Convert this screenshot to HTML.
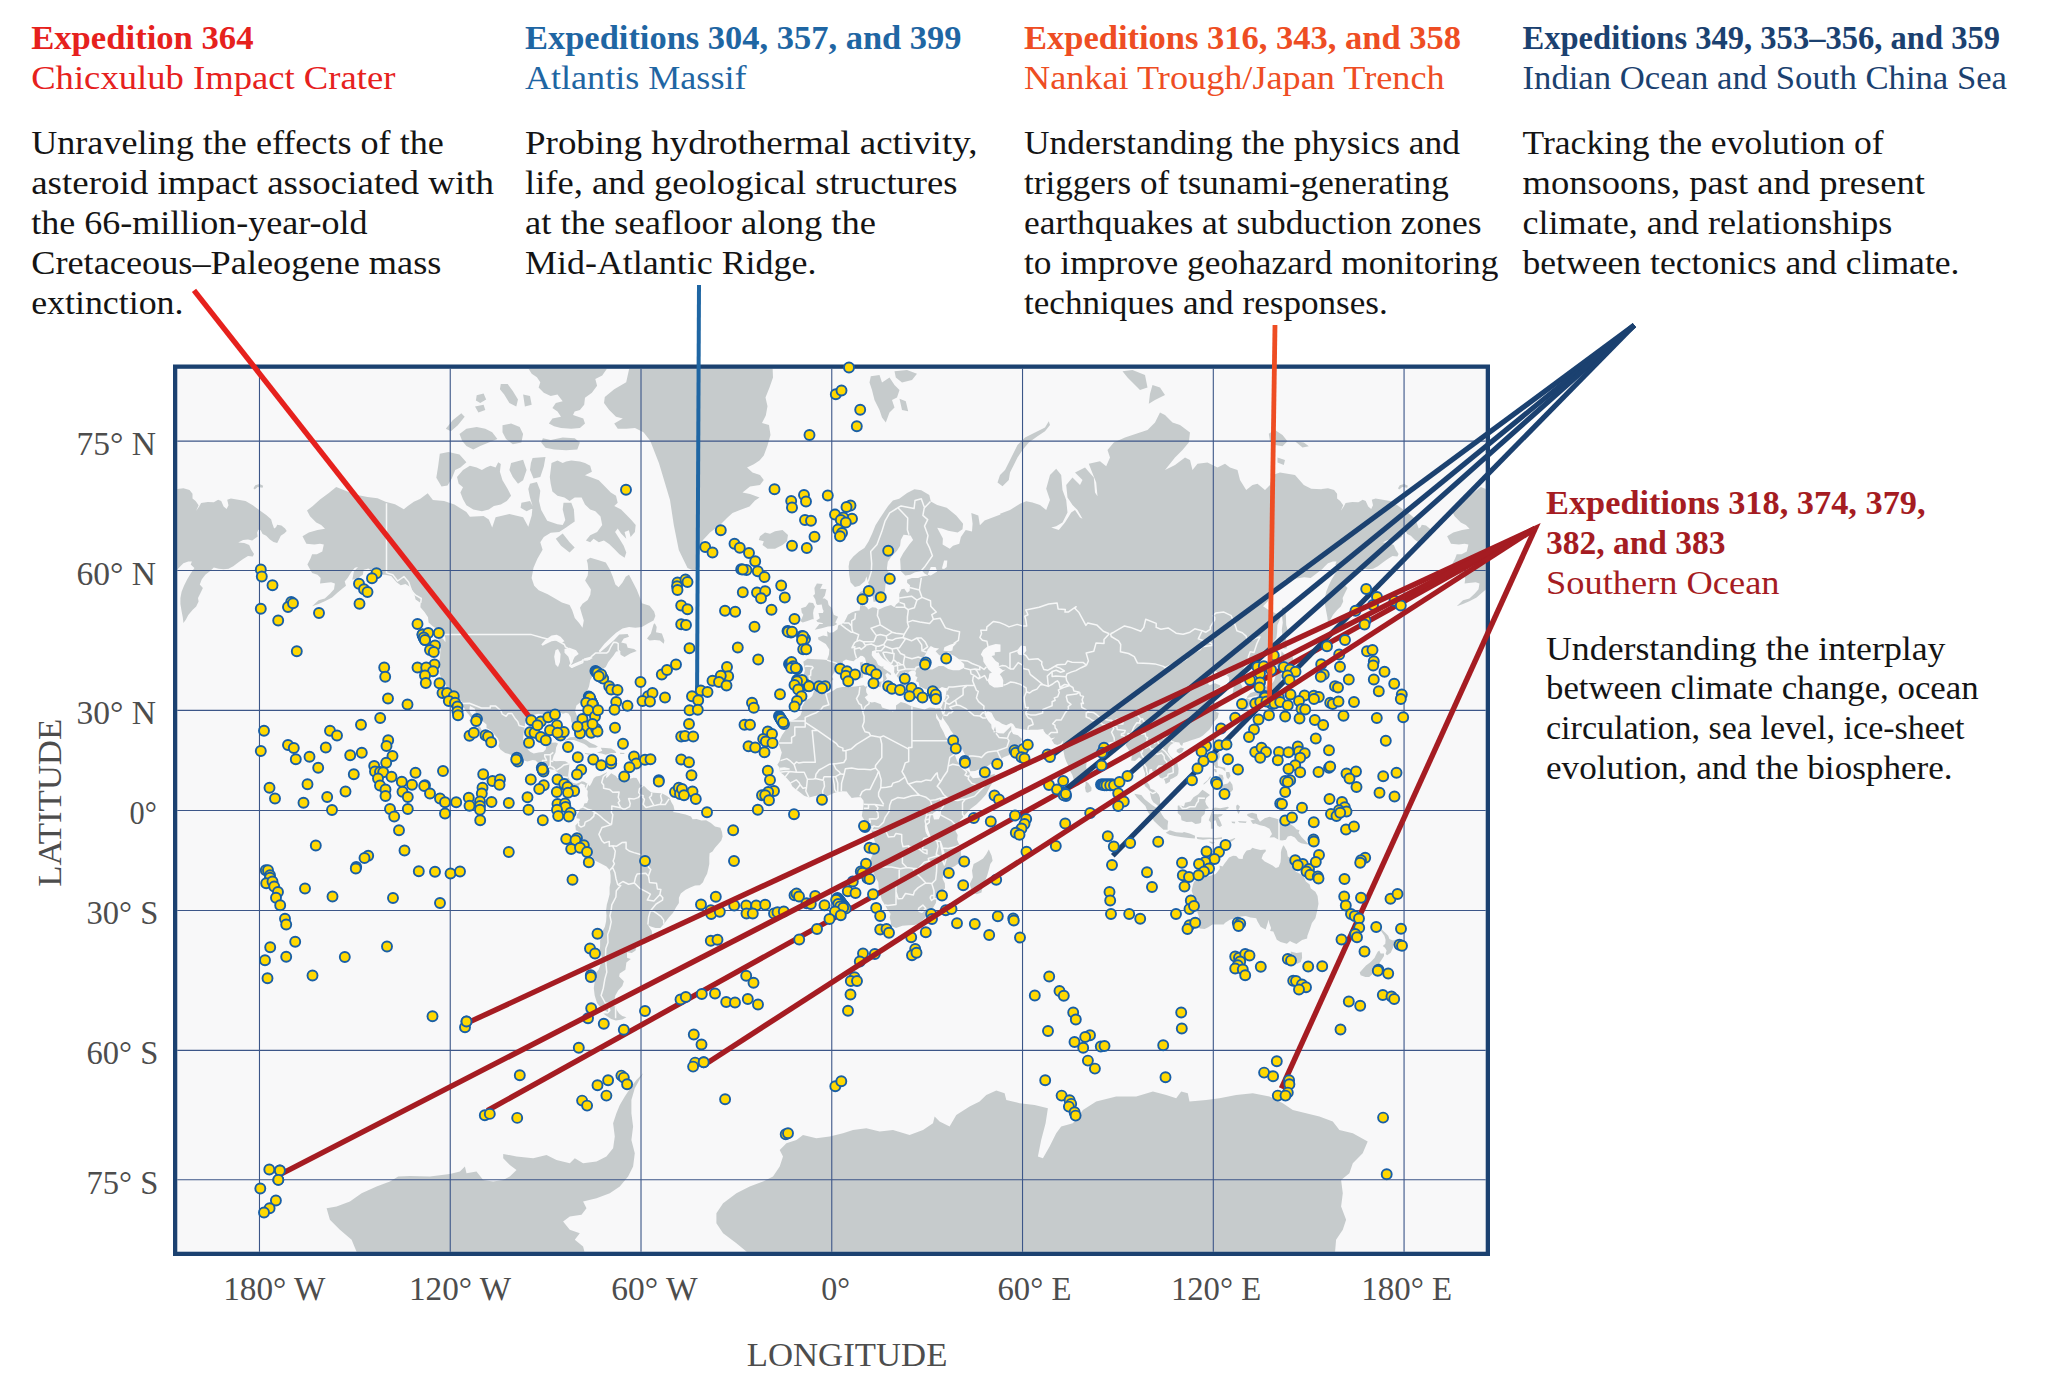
<!DOCTYPE html>
<html><head><meta charset="utf-8"><title>IODP expeditions map</title>
<style>html,body{margin:0;padding:0;background:#fff}svg{display:block}text{font-family:"Liberation Serif",serif}</style></head><body>
<svg width="2050" height="1396" viewBox="0 0 2050 1396">
<rect width="2050" height="1396" fill="#fff"/>
<defs><clipPath id="mc"><rect x="177.3" y="368.8" width="1308.4" height="882.9"/></clipPath></defs>
<rect x="177.3" y="368.8" width="1308.4" height="882.9" fill="#f8f8f9"/>
<g clip-path="url(#mc)">
<path fill="#c6cbcc" stroke="none" d="M302.5,536.2 308.8,532.5 317.5,530.0 325.0,528.8 321.2,525.0 316.2,522.5 310.0,516.2 307.0,510.5 312.5,506.2 320.0,499.5 328.8,493.0 336.2,487.0 345.0,490.5 355.0,494.5 367.5,497.0 377.5,498.2 385.5,501.8 395.0,504.2 403.8,509.2 407.5,506.2 413.8,501.8 420.0,499.0 427.7,493.2 432.9,500.1 444.1,501.0 454.4,504.4 466.4,512.1 469.9,516.8 483.6,516.1 488.8,519.5 492.2,527.6 495.6,517.3 509.4,513.9 523.1,517.3 528.3,526.8 531.7,515.6 532.6,506.1 530.0,497.5 528.3,488.9 530.0,483.8 536.9,482.1 540.3,490.7 539.0,501.0 541.2,509.9 547.2,520.7 557.5,524.2 562.7,525.0 565.3,519.9 562.7,509.6 563.5,502.7 571.3,502.7 573.9,509.6 574.7,521.6 569.6,525.0 566.1,527.6 559.2,531.9 550.7,532.8 543.8,537.1 540.3,542.2 542.6,549.7 537.4,558.7 533.5,567.7 531.6,578.0 534.2,585.8 538.7,590.3 547.7,594.2 555.5,598.7 561.9,602.5 569.6,605.1 572.2,610.3 574.8,618.0 579.3,623.2 582.5,627.7 583.8,620.6 581.5,612.9 580.0,607.7 582.5,603.8 587.7,600.0 590.3,594.8 590.9,589.6 587.7,584.5 585.1,580.6 587.7,575.5 588.3,570.3 587.7,563.8 586.7,560.0 590.3,557.7 598.0,560.0 605.8,562.6 609.6,569.0 612.8,576.7 615.4,584.5 618.6,587.3 622.5,582.5 625.7,576.7 629.0,574.8 632.8,581.9 636.7,589.6 639.9,597.4 641.9,603.2 649.6,605.8 654.1,611.6 655.4,616.1 653.5,620.6 648.3,623.2 641.9,627.0 635.4,627.7 629.0,627.0 622.5,628.6 616.1,632.8 610.9,637.6 604.5,643.8 598.7,650.9 599.9,652.6 606.4,647.0 614.1,639.9 619.3,634.5 627.7,634.1 629.0,636.7 623.8,638.6 621.2,642.5 626.4,643.8 627.7,647.7 634.1,649.0 636.7,650.9 630.3,653.5 624.5,657.0 620.6,654.8 619.9,650.9 616.1,651.5 613.5,655.4 608.3,661.9 605.8,667.0 601.9,669.6 598.0,671.1 593.5,674.8 590.3,679.9 589.0,686.4 586.4,692.8 583.8,700.0 581.1,701.7 576.4,705.4 575.1,710.9 577.7,718.1 579.6,723.4 579.2,727.6 578.0,729.7 576.1,729.7 573.9,726.2 571.3,721.7 570.7,717.0 568.5,713.4 565.9,712.7 562.8,713.8 559.0,711.3 554.2,711.6 549.8,712.0 550.4,715.6 547.0,715.6 543.2,714.5 538.4,713.8 533.0,714.9 528.9,717.8 525.1,721.7 524.8,726.9 523.5,733.9 523.2,739.7 524.8,744.0 528.0,749.7 530.2,751.7 533.7,753.4 538.4,752.4 543.2,752.0 545.7,749.4 546.6,744.7 551.1,742.7 555.8,742.4 558.0,743.4 556.1,747.4 555.5,752.4 553.6,755.7 552.3,760.6 555.8,761.2 560.6,760.9 565.3,761.2 569.4,763.8 568.8,770.3 568.2,775.1 568.2,777.4 570.7,780.9 573.2,783.1 576.4,783.7 579.6,782.5 581.8,781.2 584.3,781.8 587.8,784.0 586.2,788.8 584.6,786.3 585.2,785.0 581.1,783.4 578.3,785.6 579.6,788.2 576.7,788.8 574.2,786.3 570.4,785.6 568.2,784.7 567.8,783.1 564.7,781.2 563.4,781.2 561.2,778.6 561.5,776.4 558.7,773.5 555.5,770.6 556.1,769.0 552.6,769.7 548.5,768.7 543.5,767.4 540.6,765.5 535.6,760.6 532.7,759.9 527.3,761.6 522.6,759.9 516.9,758.0 510.2,754.4 505.2,753.0 500.4,749.4 498.5,746.1 499.5,742.4 497.9,738.6 494.4,734.5 490.9,730.4 486.5,728.0 486.5,724.5 482.7,721.3 479.5,717.4 475.7,712.7 474.8,708.4 470.0,706.1 469.4,709.1 470.4,712.7 473.8,717.0 475.7,720.6 478.3,724.1 480.8,728.3 482.7,732.8 486.2,736.6 484.6,737.6 481.8,734.2 478.0,731.5 477.6,726.9 474.5,724.1 471.0,723.1 469.1,720.6 471.6,718.5 469.1,714.9 466.6,712.0 463.7,707.3 462.1,703.6 461.5,700.9 458.0,698.7 455.5,697.2 451.1,696.0 450.7,693.4 447.3,689.1 446.6,686.8 445.0,684.0 443.5,681.2 440.9,677.2 439.4,673.1 440.0,666.9 438.7,662.6 440.0,657.4 440.6,647.7 438.4,639.8 438.1,637.5 442.8,638.4 445.4,642.2 445.4,638.0 444.1,634.6 442.5,632.7 437.8,629.8 432.4,625.9 428.6,622.4 428.0,617.3 424.5,612.1 420.4,607.3 420.7,602.9 415.6,599.6 414.0,592.8 410.2,587.0 405.5,584.0 400.7,585.2 396.6,582.2 391.2,576.0 384.9,574.8 377.0,574.8 372.3,571.6 368.5,568.4 363.7,569.7 362.8,574.8 358.0,577.9 352.3,579.7 353.9,571.6 358.0,567.1 354.9,567.8 351.7,571.6 347.6,577.9 344.7,581.6 346.0,585.8 342.2,588.7 337.4,592.8 332.1,597.4 324.8,601.3 318.5,604.0 312.1,606.2 318.5,600.2 324.8,598.5 330.2,593.4 334.0,589.3 334.9,583.4 331.1,582.2 326.4,582.8 320.0,583.4 320.7,577.9 317.5,574.8 312.1,572.9 309.6,568.4 307.4,564.5 310.5,558.5 312.1,554.3 316.9,554.3 322.3,551.6 323.8,544.4 320.0,543.7 314.3,544.4 306.4,543.7ZM439.8,453.7 448.4,452.0 459.5,454.6 466.4,462.3 460.4,467.4 455.2,470.0 451.8,478.6 447.5,485.5 441.5,486.4 436.3,477.8 438.1,466.6ZM457.0,476.9 463.0,470.0 469.9,465.7 476.7,467.4 481.9,470.0 486.2,467.4 490.5,465.7 495.6,467.4 498.2,462.3 500.8,464.0 499.9,471.7 502.5,480.3 507.7,488.9 511.1,495.8 506.8,501.0 500.8,504.4 493.9,506.1 488.8,509.6 481.9,511.3 473.3,509.6 466.4,505.3 463.0,499.2 460.4,492.4 463.0,487.2 458.7,483.8ZM551.5,463.1 557.5,460.6 562.7,463.1 566.1,461.4 571.3,460.6 579.9,461.4 585.0,463.1 590.2,465.7 591.9,471.7 585.0,475.2 590.2,476.9 598.8,480.3 605.7,487.2 610.8,492.4 616.0,495.8 617.7,502.7 614.3,506.1 621.1,509.6 626.3,514.7 631.4,519.9 635.7,525.0 634.9,531.9 630.6,537.1 628.9,530.2 624.6,531.9 626.3,538.8 621.1,533.6 617.7,528.5 615.1,531.9 619.4,538.8 623.7,545.7 626.3,552.5 624.6,557.7 619.4,554.3 614.3,549.1 609.1,543.9 603.9,540.5 598.8,542.2 593.6,538.8 590.2,542.2 585.9,540.5 590.2,535.3 597.1,531.9 602.2,525.0 600.5,516.4 595.3,511.3 590.2,509.6 585.0,504.4 581.6,497.5 574.7,497.5 569.6,501.0 564.4,497.5 557.5,495.8 552.4,491.5 550.7,483.8 549.8,476.9 550.7,470.0ZM542.9,438.2 550.7,439.9 562.7,437.4 574.7,438.2 579.9,442.5 577.3,449.4 566.1,450.3 554.1,449.4 545.5,447.7 541.2,442.5ZM527.4,366.9 608.2,366.9 602.2,375.5 595.3,378.9 597.1,385.8 591.9,392.7 585.0,397.8 584.2,404.7 579.9,409.9 574.7,411.6 573.0,415.0 583.3,418.4 585.0,423.6 579.9,427.9 571.3,428.8 561.0,427.9 554.1,426.2 548.9,423.6 552.4,418.4 561.0,416.7 557.5,411.6 552.4,408.1 555.8,403.0 562.7,401.3 557.5,394.4 550.7,396.1 543.8,392.7 538.6,387.5 540.3,382.3 536.9,377.2 531.7,373.8ZM500.8,384.1 507.7,384.1 512.8,390.9 518.0,399.5 516.3,406.4 509.4,403.0 504.2,394.4 499.9,389.2ZM445.8,428.8 452.7,420.2 461.3,413.3 464.7,416.7 457.8,425.3 450.9,431.3ZM459.5,433.9 466.4,428.8 476.7,427.0 485.3,428.8 492.2,432.2 497.4,439.1 488.8,442.5 480.2,446.0 473.3,449.4 466.4,446.0 462.1,440.8ZM502.5,425.3 511.1,423.6 519.7,427.0 523.1,433.9 521.4,442.5 512.8,444.2 506.0,439.1 502.5,432.2ZM476.7,395.2 483.6,393.5 486.2,399.5 480.2,403.0 475.9,400.4ZM475.0,406.4 483.6,404.7 485.3,409.9 478.4,412.4ZM523.1,394.4 530.0,396.1 531.7,404.7 524.9,406.4ZM532.6,458.0 545.5,457.1 543.8,466.6 540.3,476.9 533.5,478.6 530.0,470.0 530.9,463.1ZM511.1,463.1 523.1,459.7 526.6,470.0 523.1,480.3 518.0,483.8 512.8,476.9 509.4,470.0ZM521.4,502.7 530.0,501.0 533.5,507.8 526.6,511.3 520.6,507.8ZM562.7,533.6 569.6,542.2 574.7,547.4 569.6,552.5 561.0,545.7 555.8,538.8ZM647.0,638.6 650.9,633.5 653.5,624.5 654.8,623.2 656.7,627.0 656.0,632.2 661.9,633.5 664.4,640.6 663.8,643.8 659.9,640.6 654.8,639.9 649.6,640.6ZM629.0,365.0 772.5,365.0 773.0,377.5 769.5,387.5 765.5,397.5 767.5,406.2 765.8,415.5 762.0,423.0 769.0,425.0 770.5,435.0 767.5,445.5 763.8,455.5 759.5,460.5 753.8,464.2 747.0,467.5 752.5,472.5 760.0,475.0 763.8,480.0 760.0,485.0 750.0,486.5 742.5,492.5 750.0,494.0 759.5,497.5 755.0,500.5 749.5,506.5 740.0,510.0 732.5,513.0 727.0,518.0 720.0,525.0 710.0,532.5 703.0,540.0 699.5,550.0 698.0,562.5 695.0,571.2 687.5,568.0 678.8,550.0 673.8,525.0 670.0,500.0 659.0,463.2 650.2,440.8 643.5,432.2 635.0,428.0 626.2,428.8 617.8,428.8 614.2,423.5 622.8,418.5 616.0,416.8 609.0,409.8 604.0,403.0 604.8,397.0 614.2,389.2 626.2,382.2 629.0,369.5ZM760.0,536.2 765.0,532.5 770.0,533.8 775.0,531.2 782.5,530.0 788.0,535.0 787.0,541.2 782.5,545.0 775.0,548.8 767.5,548.8 762.5,545.0 763.8,541.2 758.8,540.0ZM870.8,376.2 879.5,375.0 882.0,382.5 889.5,377.5 894.5,385.0 899.5,390.0 897.0,397.5 892.0,400.0 894.5,407.5 889.5,412.5 885.8,422.5 882.0,417.5 879.5,410.0 874.5,400.0 872.0,390.0 869.5,382.5ZM894.5,371.2 907.0,370.0 917.0,373.8 912.0,380.0 902.0,382.5 895.8,377.5ZM899.5,398.8 905.8,401.2 908.2,411.2 902.0,410.0ZM1050.0,425.0 1045.0,431.2 1037.5,436.2 1028.8,442.5 1022.5,450.0 1017.5,457.5 1013.8,465.0 1010.0,472.5 1008.8,480.0 1002.5,486.2 997.5,482.5 1000.0,475.0 1005.0,470.0 1008.8,462.5 1012.5,455.0 1017.5,445.0 1025.0,437.5 1035.0,432.5 1045.0,427.5 1048.8,421.2ZM1122.5,371.2 1132.5,370.0 1145.0,375.0 1147.5,387.5 1140.0,390.0 1132.5,382.5 1127.5,377.5ZM1152.5,385.0 1160.0,387.5 1165.0,395.0 1155.0,400.0 1148.8,403.8 1150.0,393.8ZM1268.8,433.8 1275.0,430.0 1282.5,435.0 1287.5,441.2 1282.5,446.2 1275.0,445.0 1270.0,441.2ZM1295.0,441.2 1303.8,442.5 1308.8,446.2 1302.5,447.5ZM1277.5,457.5 1285.0,460.0 1283.8,465.0 1277.5,462.5ZM1398.0,488.3 1399.8,485.2 1404.1,484.0 1407.8,485.8 1407.2,487.7 1402.3,487.1 1399.2,489.5ZM804.6,686.4 802.7,679.6 804.9,670.2 803.3,661.8 807.4,658.8 815.3,659.2 821.7,659.6 827.0,660.1 828.9,654.8 829.3,649.5 825.8,644.0 818.5,639.8 817.9,637.5 823.2,635.6 827.7,636.5 827.0,631.3 829.6,632.7 833.4,632.2 837.5,629.3 838.1,625.4 843.8,622.9 846.0,618.8 847.9,614.7 851.7,612.6 855.5,611.0 859.6,610.5 860.3,605.1 858.7,601.3 858.4,595.1 859.9,592.2 866.0,588.7 865.3,595.1 866.9,597.4 864.4,602.9 863.7,605.1 867.2,607.8 868.2,609.4 872.3,607.3 876.1,607.8 878.0,609.9 885.0,606.7 891.0,605.1 894.4,607.3 896.0,604.6 899.5,601.8 899.2,593.9 901.4,589.3 904.3,588.7 907.1,592.8 909.6,591.1 910.0,585.2 907.1,582.8 907.1,579.7 911.9,577.9 918.2,577.9 922.0,576.6 928.3,575.4 924.5,573.5 922.3,571.0 915.0,572.2 910.3,574.8 905.2,575.4 900.8,571.0 900.5,565.1 900.1,559.1 903.3,553.0 909.3,544.4 913.1,540.0 910.6,535.5 903.6,534.7 900.8,540.0 900.1,545.8 897.0,550.8 891.3,556.4 887.8,561.8 886.9,568.4 887.5,571.0 891.6,573.5 892.5,576.0 889.7,580.3 885.6,583.4 885.0,589.9 883.4,596.8 879.6,597.9 878.0,601.3 873.6,601.8 872.9,597.4 870.1,589.9 868.2,582.2 866.3,576.6 865.0,581.0 859.6,585.8 854.9,587.0 850.5,582.2 849.2,574.8 848.6,566.5 849.5,561.2 853.3,556.4 859.0,551.6 864.4,548.0 868.5,541.5 872.3,533.2 875.5,525.3 879.6,518.8 883.4,512.9 888.1,505.9 892.9,500.5 899.2,498.7 907.1,493.0 914.4,489.2 921.3,490.2 929.3,494.9 930.8,501.4 937.2,505.0 946.7,507.7 956.2,515.4 963.1,523.7 962.5,529.3 957.7,532.4 948.2,530.8 941.9,528.5 937.2,527.7 942.9,538.5 942.6,544.4 949.8,548.7 953.0,545.8 959.3,543.7 960.9,537.0 965.7,530.0 972.0,531.6 972.6,523.7 971.3,512.9 978.3,515.4 979.9,525.3 984.6,520.4 1000.5,514.6 1000.0,513.8 1010.0,510.0 1020.0,503.8 1026.2,501.2 1032.5,502.5 1040.0,505.0 1046.2,510.0 1050.0,500.0 1046.2,488.8 1050.0,475.0 1056.2,468.8 1061.2,475.0 1062.5,490.0 1066.2,500.0 1067.5,512.5 1062.5,522.5 1056.2,526.2 1051.2,527.5 1058.8,530.0 1065.0,522.5 1071.2,512.5 1075.0,510.0 1080.0,517.5 1082.5,518.8 1077.5,510.0 1072.5,505.0 1067.5,497.5 1066.2,485.0 1072.5,477.5 1080.0,485.0 1082.5,480.0 1075.0,472.5 1085.0,467.5 1093.8,477.5 1095.0,492.5 1097.5,496.2 1096.2,482.5 1091.2,470.0 1088.8,463.8 1100.0,461.2 1106.2,466.2 1110.0,457.5 1107.5,450.0 1113.8,442.5 1125.0,437.5 1136.2,433.8 1147.5,430.0 1155.0,422.5 1160.0,412.5 1165.0,415.0 1172.5,422.5 1180.0,425.0 1190.0,432.5 1188.8,442.5 1182.5,450.0 1175.0,457.5 1165.0,470.0 1175.0,465.0 1185.0,457.5 1190.0,460.0 1192.5,470.0 1197.5,463.8 1207.5,462.5 1217.5,467.5 1225.0,463.8 1230.0,467.5 1237.5,470.0 1240.0,480.0 1246.2,490.0 1252.5,485.0 1257.5,483.8 1265.0,490.0 1270.0,485.0 1272.5,475.0 1280.0,472.5 1295.0,475.0 1303.8,485.0 1311.2,488.8 1321.5,489.2 1321.9,488.9 1328.0,488.3 1334.1,490.1 1337.1,493.8 1337.1,498.6 1340.2,501.1 1343.2,505.3 1340.8,510.8 1343.8,506.5 1345.6,502.9 1352.3,501.9 1358.4,502.3 1362.7,499.8 1365.7,501.1 1368.2,506.5 1371.2,509.0 1373.0,505.3 1371.8,499.8 1375.5,498.6 1382.8,499.8 1390.1,501.1 1397.4,505.3 1404.1,510.2 1410.8,515.1 1415.7,519.3 1416.9,523.6 1418.7,528.5 1420.6,527.2 1421.8,524.8 1426.0,525.4 1429.7,528.5 1431.3,530.9 1429.1,533.3 1425.4,535.8 1423.6,539.4 1421.8,543.1 1418.1,541.9 1414.5,539.4 1410.8,535.8 1407.2,533.9 1405.3,530.3 1402.9,529.7 1401.7,532.7 1402.3,536.4 1399.8,538.2 1396.8,540.6 1392.5,539.4 1387.7,540.0 1382.8,542.5 1388.9,543.1 1393.8,544.9 1395.6,549.2 1398.6,554.0 1397.4,556.5 1392.5,555.9 1387.7,558.9 1382.8,562.6 1377.9,566.2 1373.0,568.7 1368.2,569.3 1363.3,568.7 1358.4,567.4 1354.8,571.1 1349.9,574.8 1346.3,579.6 1344.4,584.5 1347.5,588.1 1345.0,593.0 1342.6,597.9 1343.2,601.5 1340.8,606.4 1337.1,610.1 1332.9,614.9 1330.4,619.8 1328.0,622.9 1327.4,617.4 1326.2,611.3 1324.9,604.0 1324.9,597.9 1326.2,591.8 1328.6,585.7 1331.6,579.6 1335.3,573.5 1338.9,568.1 1335.3,564.4 1336.5,561.4 1332.9,561.4 1328.0,563.2 1324.9,566.2 1322.1,569.3 1310.6,577.9 1304.3,577.3 1293.2,579.1 1285.3,579.1 1277.4,587.0 1271.1,593.9 1267.9,601.3 1263.1,606.2 1267.9,609.4 1271.1,611.0 1275.8,613.6 1279.9,613.6 1280.2,618.8 1277.4,624.9 1277.1,632.2 1276.4,638.0 1271.1,644.9 1266.3,650.8 1263.1,655.3 1260.6,658.8 1254.3,662.6 1250.5,660.9 1246.7,663.9 1243.5,668.1 1243.2,671.0 1237.8,674.3 1236.2,677.2 1238.8,680.0 1242.3,686.4 1242.3,690.3 1241.6,693.4 1237.2,695.3 1233.1,696.4 1232.8,692.2 1233.7,687.1 1232.1,683.6 1229.0,682.4 1229.0,677.2 1226.1,674.7 1222.0,676.0 1216.6,679.2 1218.2,673.5 1215.7,671.0 1210.9,675.6 1205.5,677.6 1206.8,681.6 1209.3,685.2 1215.0,683.2 1220.4,685.6 1219.8,687.1 1214.7,689.5 1210.9,693.4 1210.3,695.6 1213.5,698.7 1215.4,703.2 1218.2,706.1 1218.5,709.5 1215.4,711.6 1218.8,713.1 1217.6,718.1 1214.4,721.3 1211.2,726.9 1209.3,729.7 1206.2,732.5 1203.0,735.6 1199.8,737.6 1194.5,739.3 1191.9,740.0 1187.2,741.7 1183.1,743.0 1182.1,746.1 1180.2,744.4 1179.3,742.4 1175.2,742.0 1170.7,744.7 1168.2,748.1 1167.6,751.4 1170.1,755.7 1173.9,759.6 1177.4,763.2 1178.6,768.7 1178.3,773.5 1177.1,775.8 1172.9,778.3 1170.4,779.3 1169.8,781.8 1165.7,784.0 1164.7,780.6 1163.5,778.6 1160.3,778.0 1158.1,774.5 1156.2,772.9 1152.4,771.3 1152.1,769.0 1149.5,769.3 1148.9,773.5 1146.7,778.3 1147.0,782.1 1149.2,784.7 1150.5,788.8 1154.0,790.1 1156.2,792.0 1158.7,794.5 1160.0,797.9 1160.0,802.7 1162.2,806.7 1160.3,807.4 1156.5,804.5 1153.3,802.3 1151.4,798.9 1150.2,793.8 1149.8,791.0 1147.6,788.5 1145.1,786.3 1143.8,783.1 1144.8,778.3 1145.1,773.5 1143.5,768.7 1142.2,763.8 1141.6,759.0 1139.1,757.3 1135.0,760.9 1131.2,760.6 1131.8,755.7 1129.3,750.7 1127.1,747.4 1124.8,744.0 1123.3,739.7 1120.1,740.0 1117.6,741.0 1114.4,741.4 1111.2,742.0 1108.1,742.7 1107.4,745.7 1105.9,747.7 1101.7,749.1 1097.0,754.0 1093.2,758.3 1089.7,760.6 1086.5,762.2 1086.2,767.1 1086.9,770.3 1085.6,773.5 1085.3,778.6 1083.7,779.0 1082.7,782.1 1080.2,783.4 1078.0,785.9 1075.2,783.4 1073.9,779.9 1072.3,775.1 1069.8,770.6 1068.2,765.5 1066.3,761.6 1064.7,757.3 1063.4,750.7 1062.8,745.7 1062.5,743.4 1063.4,741.0 1062.2,741.4 1060.9,743.4 1057.4,745.1 1054.3,744.0 1051.7,740.0 1055.2,737.6 1051.1,738.3 1048.6,735.2 1046.0,733.9 1043.8,731.1 1043.2,729.0 1037.5,729.7 1030.5,729.7 1027.4,730.1 1021.0,729.0 1015.7,728.0 1013.1,724.1 1010.9,723.1 1006.2,725.2 1002.0,723.8 999.2,721.7 995.7,720.3 993.5,716.7 991.6,712.7 987.8,711.3 986.2,712.7 984.3,713.1 985.0,715.3 986.2,718.1 988.8,721.7 991.3,724.5 991.6,728.0 993.5,731.1 995.1,726.6 996.0,730.4 995.4,732.1 998.9,733.2 1003.6,733.5 1007.7,729.4 1010.3,726.9 1011.2,725.9 1011.2,730.8 1013.1,733.9 1017.9,735.2 1022.0,739.0 1020.7,743.0 1017.9,746.1 1015.7,750.7 1011.5,754.0 1007.4,755.7 1003.6,757.3 997.9,760.6 991.0,763.8 986.2,767.1 979.9,769.0 975.1,771.0 970.4,771.3 969.5,769.3 968.2,764.5 967.9,759.6 965.0,754.7 961.9,748.7 957.7,744.7 956.5,742.0 954.6,735.6 950.8,730.4 948.6,726.2 945.1,721.3 942.9,718.1 943.5,714.5 941.3,720.6 939.4,719.2 935.9,713.1 935.0,708.4 941.0,708.0 943.2,702.4 945.4,697.9 946.3,692.2 947.0,687.9 945.1,687.9 941.9,687.1 937.2,689.9 934.0,687.9 929.6,687.1 926.1,689.5 922.0,687.5 919.4,686.4 918.8,682.4 916.0,681.2 917.5,677.2 915.3,676.0 916.0,673.1 915.6,671.9 915.0,670.6 911.9,670.6 908.7,671.9 907.7,674.3 909.6,673.5 905.2,672.3 904.3,674.7 906.2,677.6 905.2,678.8 908.7,681.6 908.7,683.6 906.2,682.8 906.2,685.2 904.9,687.9 903.6,688.3 901.4,687.1 899.8,683.2 901.4,681.6 899.2,679.2 896.7,676.0 894.1,672.3 894.4,667.7 893.5,665.2 890.6,663.9 886.5,660.9 882.7,658.3 880.2,655.3 878.6,652.2 876.4,653.1 875.8,649.9 872.0,651.3 871.7,655.3 873.6,657.9 876.1,660.5 878.0,664.8 881.2,666.4 883.7,666.4 883.1,668.1 886.5,670.2 890.3,672.7 891.3,673.9 890.6,675.2 887.2,672.7 885.3,674.7 886.9,678.4 885.0,680.8 883.4,682.8 882.4,682.0 883.4,679.2 882.4,674.3 879.6,671.9 877.7,671.0 873.9,669.4 871.3,666.9 867.5,664.3 866.0,661.8 865.0,657.9 862.8,656.1 860.6,655.7 858.1,657.9 856.2,658.8 853.6,661.3 849.5,660.5 846.0,659.6 842.9,661.3 842.5,664.3 842.9,666.4 839.7,669.0 835.6,671.0 832.7,674.7 831.8,676.8 833.4,679.2 831.2,681.2 830.2,684.0 827.0,685.2 825.5,687.1 818.8,687.5 816.0,689.9 813.7,689.5 812.5,687.1 810.6,685.6 807.7,686.4ZM814.1,691.0 816.0,690.7 823.2,693.0 826.4,693.7 832.7,691.0 836.8,688.3 842.2,687.1 848.6,687.1 854.9,686.4 863.7,685.2 865.3,686.8 867.5,686.0 866.0,689.1 866.3,692.2 867.9,694.9 864.7,697.2 867.5,700.9 871.7,702.4 874.8,702.1 880.8,704.3 882.1,707.6 888.1,709.5 892.9,711.6 896.0,709.5 896.0,705.4 900.8,702.1 905.5,703.2 911.9,706.5 918.2,708.0 924.5,709.5 929.3,707.6 935.0,708.0 935.9,713.1 936.2,718.1 938.8,721.7 940.3,726.2 943.5,732.1 945.7,737.3 949.5,740.7 950.5,745.7 951.1,751.4 954.6,754.0 957.1,761.2 960.9,764.5 964.1,768.4 967.9,771.0 969.8,772.9 969.5,774.8 972.9,778.3 978.3,777.7 984.6,776.4 991.0,775.1 994.8,773.8 994.5,778.3 992.6,782.5 989.4,787.8 986.2,794.2 981.5,799.5 976.7,804.2 970.4,808.9 965.7,813.9 962.5,817.7 960.0,820.2 957.7,825.6 955.5,830.9 957.7,835.0 957.1,839.8 958.7,843.6 960.9,845.5 960.9,851.9 961.5,858.4 959.3,862.9 954.6,866.2 949.8,868.5 946.7,872.2 943.2,875.1 942.6,878.8 944.8,883.2 945.1,888.3 941.9,891.8 937.2,894.2 936.5,897.7 935.9,903.0 933.4,907.3 930.2,912.0 927.0,916.0 922.9,920.1 918.2,923.8 914.1,925.0 908.7,925.3 902.4,925.7 896.0,928.0 891.3,926.1 890.6,921.2 889.7,917.5 890.6,913.8 887.8,910.2 885.3,905.5 881.8,900.1 880.2,894.2 878.6,887.3 878.3,882.2 875.5,877.2 872.3,870.5 870.1,865.6 870.1,860.7 872.0,855.8 875.5,851.0 876.4,846.2 874.8,841.4 872.3,833.4 871.3,829.7 869.1,825.6 864.4,820.2 861.8,816.1 862.5,811.4 863.1,808.3 863.7,803.6 863.4,800.5 860.9,797.3 858.1,797.3 854.9,797.6 851.7,797.9 848.6,794.2 846.7,791.6 842.2,791.3 837.5,792.0 832.7,793.5 826.4,796.4 821.7,795.4 816.9,795.4 809.0,797.6 804.2,795.7 799.5,792.0 796.3,789.7 792.2,786.3 790.6,782.5 786.8,778.3 783.7,775.1 779.9,771.9 779.6,767.7 777.3,764.8 779.6,761.2 780.5,757.3 781.8,752.4 780.5,749.1 778.9,744.0 779.2,740.7 782.1,734.9 785.3,730.4 786.8,726.2 791.0,721.0 796.3,718.8 800.5,715.3 802.0,710.9 801.7,707.3 805.5,700.6 809.9,698.3 812.2,696.0ZM988.8,849.4 991.6,855.8 992.6,860.7 990.3,863.9 989.1,868.8 987.2,875.5 984.6,882.2 982.1,889.0 981.5,892.5 976.7,894.2 972.0,892.5 969.8,883.9 972.9,877.2 972.0,870.5 973.6,863.9 978.3,861.6 983.1,858.4 986.2,854.2ZM587.8,784.0 589.7,786.3 591.6,783.1 593.8,778.3 596.0,776.4 600.1,775.8 603.9,773.8 607.1,772.2 606.1,776.7 606.1,778.3 608.0,776.7 611.2,773.2 615.9,776.1 617.5,778.3 623.9,778.0 628.6,779.3 633.4,777.7 636.5,778.0 638.1,780.6 640.3,784.7 644.4,786.3 647.6,789.4 651.4,792.6 657.1,792.9 661.8,793.2 666.6,795.7 669.7,797.9 671.3,802.0 673.5,805.8 674.5,809.9 672.9,812.1 679.2,813.0 680.8,813.6 685.6,814.6 691.0,816.5 692.5,819.3 696.6,819.0 701.4,820.5 706.1,820.2 710.9,823.1 715.0,826.5 720.4,827.8 722.0,831.9 722.6,836.6 721.3,840.4 717.9,844.6 715.0,847.8 712.5,851.6 709.6,853.2 709.3,857.4 709.3,863.9 708.4,868.2 707.1,873.8 704.6,878.2 703.0,882.2 699.8,885.3 695.1,885.6 690.3,887.6 685.6,889.7 680.8,893.5 678.9,897.7 678.9,903.0 676.1,907.3 672.9,913.1 668.8,917.5 664.0,923.8 660.3,928.0 655.5,928.0 650.8,926.5 647.9,925.0 651.7,930.7 652.3,934.6 649.8,940.5 644.4,943.7 636.5,944.5 635.6,950.6 631.8,953.1 627.0,952.2 627.0,957.7 630.8,959.0 626.4,962.4 625.4,969.8 619.7,973.4 619.1,976.6 623.9,981.2 622.3,985.9 618.2,990.6 615.3,995.5 614.4,1000.5 616.3,1004.6 612.8,1005.1 608.3,1007.1 608.0,1011.9 604.9,1010.8 600.1,1007.1 597.0,1003.0 594.7,995.5 593.8,988.2 594.7,981.2 597.0,977.9 593.8,975.2 598.5,969.8 601.1,963.3 601.7,956.0 599.2,952.7 600.1,946.5 600.1,940.5 601.1,937.3 602.3,931.8 604.9,926.8 606.1,921.2 606.5,915.6 606.1,910.2 606.8,904.8 608.3,899.4 609.6,894.2 609.6,887.3 610.6,882.2 610.6,875.5 609.9,870.2 606.5,866.5 601.7,863.9 595.4,860.7 591.3,855.8 591.3,852.6 588.4,849.4 585.9,844.6 583.7,839.8 581.1,835.0 578.0,831.2 575.8,830.3 575.4,825.6 578.3,822.4 579.9,820.2 579.6,818.7 576.4,818.3 577.0,814.6 579.2,811.4 579.6,808.9 582.7,807.7 583.7,805.8 584.3,803.6 587.1,803.0 588.4,799.5 587.5,795.7 587.8,791.0 586.2,788.8ZM615.6,1006.6 616.6,1009.8 619.1,1013.5 622.3,1016.1 626.4,1017.2 622.3,1019.4 615.9,1020.5 611.2,1018.9 606.5,1016.1 603.3,1013.5 608.0,1013.5 610.6,1010.8 609.6,1007.1 612.8,1006.1ZM1283.7,845.2 1286.9,851.0 1287.8,856.4 1292.6,859.0 1294.2,864.9 1295.4,871.5 1299.5,873.5 1303.7,876.5 1305.9,881.5 1309.7,884.6 1310.6,888.3 1315.4,891.8 1317.6,895.9 1318.5,903.7 1316.9,912.0 1315.4,918.2 1311.9,923.1 1310.0,928.8 1307.4,935.7 1307.1,938.5 1302.1,940.1 1296.4,944.1 1291.6,942.1 1290.0,940.9 1286.9,943.7 1280.5,942.1 1276.8,939.7 1274.9,935.3 1273.3,931.5 1270.1,931.1 1271.1,928.0 1269.2,923.1 1268.8,919.7 1267.3,924.2 1265.7,929.5 1262.8,928.0 1260.6,926.8 1257.4,921.2 1256.2,918.2 1250.5,917.5 1245.7,916.0 1241.0,916.4 1234.7,918.2 1229.9,919.7 1225.2,922.7 1223.6,924.6 1217.3,924.6 1212.5,924.6 1207.8,927.6 1204.6,929.1 1199.8,928.4 1197.0,926.1 1196.7,923.1 1198.9,921.2 1198.9,916.7 1197.3,912.0 1196.0,906.5 1194.1,902.3 1191.9,897.0 1193.2,895.2 1191.6,890.7 1192.9,884.9 1194.1,881.5 1198.3,879.8 1202.4,877.5 1206.2,876.8 1210.9,875.5 1215.7,874.1 1219.8,868.8 1219.5,865.6 1222.6,866.5 1224.2,863.9 1226.7,860.7 1229.0,857.4 1233.1,855.8 1236.2,856.1 1238.8,858.7 1242.6,859.0 1243.2,855.8 1245.1,852.6 1246.7,850.6 1250.5,849.7 1252.4,847.8 1255.2,848.7 1260.6,850.0 1265.4,849.4 1266.0,851.0 1263.1,854.2 1261.6,858.4 1264.7,861.6 1268.8,863.6 1272.6,865.6 1275.8,867.9 1278.6,866.9 1280.5,862.3 1280.9,857.4 1280.9,852.6 1281.5,849.4 1282.8,846.2ZM1290.7,951.4 1296.4,953.1 1301.8,952.2 1302.1,957.7 1300.8,962.0 1297.3,963.7 1294.8,963.3 1292.6,959.0 1291.0,954.8ZM1379.3,926.5 1381.8,929.5 1385.0,932.6 1388.2,935.7 1389.4,938.9 1392.9,940.5 1397.6,939.3 1397.0,942.9 1393.5,945.7 1392.9,948.1 1390.7,952.7 1387.2,955.2 1385.6,953.9 1386.6,950.6 1385.0,947.7 1382.8,946.1 1385.3,943.7 1385.6,939.7 1384.4,935.7 1380.9,930.7ZM1379.3,950.6 1380.6,953.5 1384.0,953.5 1384.0,956.0 1381.8,959.4 1379.6,962.8 1380.2,965.0 1375.5,966.7 1373.9,971.2 1372.3,974.3 1369.2,977.0 1365.4,977.0 1360.6,975.2 1359.7,972.5 1362.8,968.9 1366.0,965.4 1370.7,962.0 1374.5,958.1 1375.8,955.2 1377.7,951.8ZM1247.3,813.9 1252.1,812.7 1256.8,813.9 1257.4,817.7 1260.0,821.8 1264.7,818.3 1269.5,816.8 1274.2,818.0 1279.0,819.6 1285.3,822.1 1290.0,823.7 1294.2,826.8 1296.4,829.3 1299.5,830.3 1298.6,832.8 1301.1,836.6 1304.3,839.8 1307.4,843.0 1309.7,844.6 1305.9,844.2 1301.1,843.3 1298.0,841.4 1294.8,837.6 1291.0,835.7 1287.8,836.6 1285.9,839.8 1282.1,840.4 1279.0,840.1 1274.2,837.2 1269.5,837.6 1272.0,834.1 1271.1,831.9 1269.5,828.7 1264.7,826.2 1260.0,825.3 1255.2,823.4 1253.0,824.0 1250.5,820.5 1255.2,819.3 1251.4,818.3 1247.3,815.8ZM1134.3,793.8 1141.3,795.1 1144.5,798.9 1149.2,802.7 1152.4,805.2 1157.1,808.3 1160.3,811.4 1161.9,814.6 1164.4,818.3 1168.2,820.9 1167.6,825.6 1167.6,829.7 1163.5,829.7 1158.7,825.6 1154.0,820.9 1150.8,816.1 1147.6,811.4 1145.4,806.1 1141.3,802.0 1136.6,797.3ZM1165.7,832.8 1169.8,830.3 1176.1,832.2 1182.4,832.8 1184.0,831.9 1189.7,833.4 1195.1,835.7 1194.8,838.5 1188.8,837.9 1180.9,836.9 1174.5,836.0 1169.5,834.7ZM1177.7,805.8 1179.6,805.2 1184.0,806.4 1185.0,802.7 1190.4,801.4 1193.5,797.3 1198.3,794.2 1202.4,789.7 1205.2,791.6 1210.0,795.1 1206.2,797.9 1205.2,801.4 1206.2,804.5 1209.0,808.3 1205.5,808.9 1204.6,813.9 1201.4,817.1 1201.1,822.4 1199.2,823.4 1195.4,824.0 1191.9,821.8 1186.6,822.1 1181.5,820.2 1180.9,816.1 1177.7,813.0 1177.7,808.9ZM1211.9,808.9 1215.0,807.4 1220.4,808.3 1227.7,806.7 1229.0,807.7 1225.2,810.2 1218.8,809.9 1214.1,810.2 1212.5,813.9 1217.3,814.3 1222.9,813.9 1221.4,816.1 1218.2,817.1 1220.4,821.5 1222.0,825.6 1219.8,827.1 1217.3,825.6 1215.7,820.2 1213.5,820.9 1213.8,828.7 1210.9,828.7 1210.9,822.4 1208.7,820.2 1210.3,816.1 1211.9,811.4ZM1196.7,836.9 1203.0,837.6 1209.3,837.6 1215.7,837.9 1222.0,837.2 1222.0,838.8 1215.7,839.5 1209.3,839.1 1203.0,839.8 1197.3,839.1ZM1223.6,843.9 1228.3,840.4 1234.7,837.9 1235.3,838.8 1231.5,841.4 1226.7,843.6ZM1209.3,841.4 1215.0,842.3 1212.5,843.9 1209.3,842.3ZM1236.2,805.8 1237.8,804.5 1240.0,806.7 1238.5,809.9 1240.4,810.5 1238.5,813.9 1237.2,811.4 1236.2,808.3ZM1237.8,820.9 1246.7,821.5 1245.7,823.1 1239.4,822.4ZM1231.5,821.5 1235.3,821.8 1234.7,823.4 1232.1,823.1ZM1214.4,752.4 1219.5,752.4 1219.8,757.3 1217.6,761.2 1217.9,766.1 1221.4,767.1 1225.2,767.7 1225.5,771.6 1222.0,768.7 1218.8,767.7 1215.7,768.1 1214.4,765.5 1212.5,763.8 1211.9,759.9 1213.8,758.6 1213.5,755.3ZM1218.8,789.4 1219.8,786.3 1223.6,784.4 1227.7,783.4 1229.9,780.9 1232.4,784.7 1233.1,789.4 1231.5,791.6 1229.9,792.6 1229.3,790.1 1225.2,791.0 1223.6,787.8ZM1226.1,771.9 1229.3,771.9 1230.5,776.1 1228.3,779.3 1226.7,777.4 1226.1,775.1ZM1218.8,774.2 1222.6,775.1 1223.6,778.3 1222.9,781.8 1220.4,781.5 1218.8,778.3ZM1203.6,783.4 1207.8,779.9 1210.3,776.1 1210.9,777.4 1206.2,782.5 1203.6,784.7ZM1213.8,769.0 1216.3,769.3 1216.9,772.2 1215.0,772.2ZM1215.7,729.7 1218.5,730.4 1217.3,735.6 1215.0,740.7 1213.1,738.0 1213.1,734.5 1215.4,731.1ZM1176.7,749.7 1180.9,747.4 1184.0,748.4 1182.1,752.0 1179.3,753.4 1176.7,751.7ZM1085.6,781.2 1088.4,783.1 1091.6,787.8 1091.3,791.0 1087.8,792.7 1085.9,792.0 1085.0,787.8 1085.6,784.7ZM1278.6,668.5 1280.5,672.3 1282.1,676.4 1280.5,681.2 1279.0,685.6 1278.3,690.3 1276.8,693.4 1275.2,693.0 1272.6,694.1 1270.1,695.3 1266.3,695.6 1265.7,696.4 1262.5,699.8 1260.3,698.3 1260.6,696.4 1256.8,695.6 1252.1,696.8 1247.3,697.9 1247.0,696.8 1250.5,693.0 1254.6,691.8 1260.0,691.4 1263.1,690.3 1265.4,686.4 1267.3,684.4 1266.3,687.1 1271.1,684.8 1274.2,680.4 1275.8,675.2 1275.8,671.9 1276.8,669.4ZM1276.4,668.1 1276.8,664.8 1277.4,660.9 1279.9,660.5 1281.2,655.3 1281.5,651.3 1285.3,655.3 1289.4,657.4 1292.6,656.1 1293.2,660.5 1288.5,662.2 1286.2,666.0 1281.5,663.9 1279.0,664.8 1278.3,666.9ZM1247.0,698.3 1249.8,699.4 1250.2,702.8 1248.6,707.6 1246.4,709.1 1244.8,708.0 1244.8,704.3 1243.2,701.7 1244.2,699.8ZM1252.1,697.9 1256.8,696.8 1259.0,698.7 1257.4,700.6 1253.6,702.4 1251.7,700.6ZM1282.1,607.8 1284.7,607.8 1285.9,615.7 1286.2,624.9 1288.5,633.2 1285.3,634.6 1286.2,640.3 1286.9,644.9 1286.6,648.6 1283.7,648.6 1282.1,644.0 1282.4,637.0 1281.8,629.8 1282.8,622.4 1281.5,613.1ZM819.4,623.9 823.2,623.9 822.3,622.9 817.5,621.9 816.3,620.4 819.8,618.3 819.1,615.7 818.5,613.1 822.9,613.1 823.6,611.0 822.6,608.9 821.7,604.6 817.5,605.1 816.3,604.0 815.3,599.6 813.1,595.7 815.0,593.9 814.4,588.1 816.9,583.4 822.6,584.0 820.1,589.3 821.7,588.7 826.4,589.3 824.8,595.7 822.6,598.5 824.8,598.5 827.7,600.7 828.6,605.1 832.1,608.3 832.7,611.5 833.7,614.7 838.1,616.8 835.3,622.4 837.2,623.9 833.7,625.9 828.0,626.4 821.7,628.3 814.7,629.8ZM812.2,619.3 807.4,620.9 802.7,622.4 800.1,620.9 801.7,618.8 803.3,614.7 801.7,612.6 801.1,608.3 805.8,606.7 809.0,602.4 813.1,602.9 815.0,606.7 813.7,609.4 813.1,613.1 813.7,619.3ZM872.3,682.4 881.8,681.6 880.5,687.5 872.3,683.6ZM858.7,670.2 863.4,670.2 863.1,677.6 859.6,678.4ZM859.9,662.6 862.8,661.8 862.5,668.1 860.3,667.3ZM907.1,691.8 916.0,693.0 915.0,694.1 907.4,693.4ZM935.0,694.1 937.2,693.0 941.9,691.8 940.3,694.1 937.2,695.6ZM564.0,741.0 570.1,737.3 574.8,736.9 579.6,737.6 585.9,739.7 590.6,743.0 595.4,745.1 597.9,746.7 595.4,747.7 589.0,747.7 586.8,745.7 584.3,744.0 578.0,741.4 573.9,740.0 568.5,740.0ZM602.3,750.7 600.8,747.7 605.8,748.1 611.2,748.4 615.0,750.7 616.3,753.0 611.2,753.0 605.8,754.7 601.7,753.4 597.0,752.7ZM584.9,753.0 591.3,753.7 589.0,754.7 584.9,753.7ZM620.1,752.7 624.8,753.0 623.9,754.0 620.1,754.0ZM359.9,1259.8 351.6,1239.8 339.9,1229.8 329.9,1219.8 326.6,1208.2 336.6,1206.5 349.9,1201.5 361.6,1193.2 376.6,1186.5 389.9,1181.5 398.2,1176.5 409.9,1175.9 429.9,1176.5 449.9,1173.9 459.9,1171.5 464.9,1166.5 466.5,1173.2 476.5,1171.5 483.2,1179.9 493.2,1181.5 503.2,1179.9 509.8,1176.5 516.5,1169.9 509.8,1164.9 503.2,1158.2 503.2,1153.9 516.5,1156.5 533.2,1158.2 546.5,1154.9 556.5,1159.9 569.8,1163.2 574.8,1158.2 583.1,1163.2 596.5,1161.5 606.4,1156.5 613.1,1148.2 614.8,1136.5 613.1,1123.2 616.4,1113.2 619.8,1104.9 624.8,1096.6 631.4,1086.6 636.4,1079.9 643.1,1073.2 634.8,1088.2 631.4,1099.9 631.4,1113.2 633.1,1126.6 631.4,1139.9 634.8,1153.2 633.1,1166.5 628.1,1176.5 619.8,1186.5 609.8,1193.2 596.5,1198.2 583.1,1201.5 586.5,1208.2 581.5,1214.8 569.8,1216.5 563.1,1221.5 569.8,1229.8 579.8,1233.2 574.8,1239.8 583.1,1246.5 586.5,1259.8ZM756.4,1259.8 736.4,1243.2 723.1,1233.2 716.4,1223.2 716.4,1213.2 723.1,1203.2 736.4,1193.2 749.7,1186.5 763.0,1181.5 773.0,1176.5 779.7,1166.5 783.0,1156.5 779.7,1149.9 786.4,1143.2 796.4,1139.9 803.0,1134.9 816.3,1138.2 829.7,1136.5 843.0,1133.2 853.0,1129.9 866.3,1128.2 879.7,1131.6 893.0,1129.9 909.6,1134.9 923.0,1129.9 933.0,1123.2 934.6,1116.6 939.6,1121.6 949.6,1126.6 956.3,1114.9 969.6,1106.6 979.6,1101.6 986.3,1094.9 996.3,1090.6 1004.6,1093.2 1006.3,1099.9 1019.6,1103.2 1034.6,1104.9 1047.9,1108.2 1045.6,1123.2 1041.2,1139.9 1037.9,1156.5 1042.9,1158.2 1049.6,1146.5 1056.2,1133.2 1061.2,1126.6 1072.9,1123.2 1082.9,1109.9 1096.2,1101.6 1116.2,1096.6 1136.2,1096.6 1152.9,1091.6 1166.2,1094.9 1176.2,1098.2 1181.2,1091.6 1187.8,1093.2 1189.5,1101.6 1206.2,1099.9 1219.5,1098.2 1236.1,1094.9 1252.8,1093.2 1269.5,1096.6 1282.8,1103.2 1292.8,1109.9 1306.1,1113.2 1319.4,1116.6 1332.8,1121.6 1339.4,1129.9 1352.8,1133.2 1367.7,1141.5 1362.7,1153.2 1352.8,1163.2 1349.4,1173.2 1341.1,1179.9 1342.8,1193.2 1341.1,1206.5 1346.1,1219.8 1342.8,1229.8 1336.1,1239.8 1334.4,1259.8ZM-340.0,686.4 -341.9,679.6 -339.7,670.2 -341.3,661.8 -337.2,658.8 -329.3,659.2 -322.9,659.6 -317.5,660.1 -315.6,654.8 -315.3,649.5 -318.8,644.0 -326.1,639.8 -326.7,637.5 -321.3,635.6 -316.9,636.5 -317.5,631.3 -315.0,632.7 -311.2,632.2 -307.1,629.3 -306.5,625.4 -300.8,622.9 -298.6,618.8 -296.7,614.7 -292.9,612.6 -289.1,611.0 -285.0,610.5 -284.3,605.1 -285.9,601.3 -286.2,595.1 -284.6,592.2 -278.6,588.7 -279.3,595.1 -277.7,597.4 -280.2,602.9 -280.8,605.1 -277.4,607.8 -276.4,609.4 -272.3,607.3 -268.5,607.8 -266.6,609.9 -259.6,606.7 -253.6,605.1 -250.1,607.3 -248.6,604.6 -245.1,601.8 -245.4,593.9 -243.2,589.3 -240.3,588.7 -237.5,592.8 -234.9,591.1 -234.6,585.2 -237.5,582.8 -237.5,579.7 -232.7,577.9 -226.4,577.9 -222.6,576.6 -216.3,575.4 -220.1,573.5 -222.3,571.0 -229.6,572.2 -234.3,574.8 -239.4,575.4 -243.8,571.0 -244.1,565.1 -244.4,559.1 -241.3,553.0 -235.3,544.4 -231.5,540.0 -234.0,535.5 -241.0,534.7 -243.8,540.0 -244.4,545.8 -247.6,550.8 -253.3,556.4 -256.8,561.8 -257.7,568.4 -257.1,571.0 -253.0,573.5 -252.0,576.0 -254.9,580.3 -259.0,583.4 -259.6,589.9 -261.2,596.8 -265.0,597.9 -266.6,601.3 -271.0,601.8 -271.7,597.4 -274.5,589.9 -276.4,582.2 -278.3,576.6 -279.6,581.0 -285.0,585.8 -289.7,587.0 -294.1,582.2 -295.4,574.8 -296.0,566.5 -295.1,561.2 -291.3,556.4 -285.6,551.6 -280.2,548.0 -276.1,541.5 -272.3,533.2 -269.1,525.3 -265.0,518.8 -261.2,512.9 -256.5,505.9 -251.7,500.5 -245.4,498.7 -237.5,493.0 -230.2,489.2 -223.2,490.2 -215.3,494.9 -213.7,501.4 -207.4,505.0 -197.9,507.7 -188.4,515.4 -181.5,523.7 -182.1,529.3 -186.8,532.4 -196.3,530.8 -202.7,528.5 -207.4,527.7 -201.7,538.5 -202.0,544.4 -194.8,548.7 -191.6,545.8 -185.3,543.7 -183.7,537.0 -178.9,530.0 -172.6,531.6 -172.0,523.7 -173.2,512.9 -166.3,515.4 -164.7,525.3 -159.9,520.4 -144.1,514.6 -144.6,513.8 -134.6,510.0 -124.6,503.8 -118.3,501.2 -112.1,502.5 -104.6,505.0 -98.3,510.0 -94.6,500.0 -98.3,488.8 -94.6,475.0 -88.3,468.8 -83.3,475.0 -82.1,490.0 -78.3,500.0 -77.1,512.5 -82.1,522.5 -88.3,526.2 -93.3,527.5 -85.8,530.0 -79.6,522.5 -73.3,512.5 -69.6,510.0 -64.6,517.5 -62.1,518.8 -67.1,510.0 -72.1,505.0 -77.1,497.5 -78.3,485.0 -72.1,477.5 -64.6,485.0 -62.1,480.0 -69.6,472.5 -59.6,467.5 -50.8,477.5 -49.6,492.5 -47.1,496.2 -48.3,482.5 -53.3,470.0 -55.8,463.8 -44.6,461.2 -38.3,466.2 -34.6,457.5 -37.1,450.0 -30.8,442.5 -19.6,437.5 -8.3,433.8 2.9,430.0 10.4,422.5 15.4,412.5 20.4,415.0 27.9,422.5 35.4,425.0 45.4,432.5 44.2,442.5 37.9,450.0 30.4,457.5 20.4,470.0 30.4,465.0 40.4,457.5 45.4,460.0 47.9,470.0 52.9,463.8 62.9,462.5 72.9,467.5 80.4,463.8 85.4,467.5 92.9,470.0 95.4,480.0 101.7,490.0 107.9,485.0 112.9,483.8 120.4,490.0 125.4,485.0 127.9,475.0 135.4,472.5 150.4,475.0 159.2,485.0 166.7,488.8 176.9,489.2 177.3,488.9 183.4,488.3 189.5,490.1 192.5,493.8 192.5,498.6 195.6,501.1 198.6,505.3 196.2,510.8 199.2,506.5 201.1,502.9 207.8,501.9 213.8,502.3 218.1,499.8 221.2,501.1 223.6,506.5 226.6,509.0 228.5,505.3 227.2,499.8 230.9,498.6 238.2,499.8 245.5,501.1 252.8,505.3 259.5,510.2 266.2,515.1 271.1,519.3 272.3,523.6 274.1,528.5 276.0,527.2 277.2,524.8 281.4,525.4 285.1,528.5 286.7,530.9 284.5,533.3 280.8,535.8 279.0,539.4 277.2,543.1 273.5,541.9 269.9,539.4 266.2,535.8 262.6,533.9 260.7,530.3 258.3,529.7 257.1,532.7 257.7,536.4 255.3,538.2 252.2,540.6 248.0,539.4 243.1,540.0 238.2,542.5 244.3,543.1 249.2,544.9 251.0,549.2 254.0,554.0 252.8,556.5 248.0,555.9 243.1,558.9 238.2,562.6 233.3,566.2 228.5,568.7 223.6,569.3 218.7,568.7 213.8,567.4 210.2,571.1 205.3,574.8 201.7,579.6 199.8,584.5 202.9,588.1 200.5,593.0 198.0,597.9 198.6,601.5 196.2,606.4 192.5,610.1 188.3,614.9 185.8,619.8 183.4,622.9 182.8,617.4 181.6,611.3 180.4,604.0 180.4,597.9 181.6,591.8 184.0,585.7 187.1,579.6 190.7,573.5 194.4,568.1 190.7,564.4 191.9,561.4 188.3,561.4 183.4,563.2 180.4,566.2 177.6,569.3 166.0,577.9 159.7,577.3 148.6,579.1 140.7,579.1 132.8,587.0 126.5,593.9 123.3,601.3 118.6,606.2 123.3,609.4 126.5,611.0 131.2,613.6 135.3,613.6 135.6,618.8 132.8,624.9 132.5,632.2 131.8,638.0 126.5,644.9 121.7,650.8 118.6,655.3 116.0,658.8 109.7,662.6 105.9,660.9 102.1,663.9 98.9,668.1 98.6,671.0 93.2,674.3 91.7,677.2 94.2,680.0 97.7,686.4 97.7,690.3 97.0,693.4 92.6,695.3 88.5,696.4 88.2,692.2 89.1,687.1 87.5,683.6 84.4,682.4 84.4,677.2 81.5,674.7 77.4,676.0 72.0,679.2 73.6,673.5 71.1,671.0 66.3,675.6 61.0,677.6 62.2,681.6 64.8,685.2 70.5,683.2 75.8,685.6 75.2,687.1 70.1,689.5 66.3,693.4 65.7,695.6 68.9,698.7 70.8,703.2 73.6,706.1 73.9,709.5 70.8,711.6 74.3,713.1 73.0,718.1 69.8,721.3 66.7,726.9 64.8,729.7 61.6,732.5 58.4,735.6 55.3,737.6 49.9,739.3 47.4,740.0 42.6,741.7 38.5,743.0 37.5,746.1 35.6,744.4 34.7,742.4 30.6,742.0 26.1,744.7 23.6,748.1 23.0,751.4 25.5,755.7 29.3,759.6 32.8,763.2 34.1,768.7 33.7,773.5 32.5,775.8 28.4,778.3 25.8,779.3 25.2,781.8 21.1,784.0 20.1,780.6 18.9,778.6 15.7,778.0 13.5,774.5 11.6,772.9 7.8,771.3 7.5,769.0 4.9,769.3 4.3,773.5 2.1,778.3 2.4,782.1 4.6,784.7 5.9,788.8 9.4,790.1 11.6,792.0 14.1,794.5 15.4,797.9 15.4,802.7 17.6,806.7 15.7,807.4 11.9,804.5 8.7,802.3 6.8,798.9 5.6,793.8 5.3,791.0 3.0,788.5 0.5,786.3 -0.8,783.1 0.2,778.3 0.5,773.5 -1.1,768.7 -2.3,763.8 -3.0,759.0 -5.5,757.3 -9.6,760.9 -13.4,760.6 -12.8,755.7 -15.3,750.7 -17.5,747.4 -19.7,744.0 -21.3,739.7 -24.5,740.0 -27.0,741.0 -30.2,741.4 -33.4,742.0 -36.5,742.7 -37.1,745.7 -38.7,747.7 -42.8,749.1 -47.6,754.0 -51.4,758.3 -54.9,760.6 -58.0,762.2 -58.4,767.1 -57.7,770.3 -59.0,773.5 -59.3,778.6 -60.9,779.0 -61.8,782.1 -64.4,783.4 -66.6,785.9 -69.4,783.4 -70.7,779.9 -72.3,775.1 -74.8,770.6 -76.4,765.5 -78.3,761.6 -79.9,757.3 -81.1,750.7 -81.8,745.7 -82.1,743.4 -81.1,741.0 -82.4,741.4 -83.7,743.4 -87.2,745.1 -90.3,744.0 -92.8,740.0 -89.4,737.6 -93.5,738.3 -96.0,735.2 -98.5,733.9 -100.8,731.1 -101.4,729.0 -107.1,729.7 -114.1,729.7 -117.2,730.1 -123.5,729.0 -128.9,728.0 -131.5,724.1 -133.7,723.1 -138.4,725.2 -142.5,723.8 -145.4,721.7 -148.9,720.3 -151.1,716.7 -153.0,712.7 -156.8,711.3 -158.4,712.7 -160.3,713.1 -159.6,715.3 -158.4,718.1 -155.8,721.7 -153.3,724.5 -153.0,728.0 -151.1,731.1 -149.5,726.6 -148.5,730.4 -149.2,732.1 -145.7,733.2 -141.0,733.5 -136.8,729.4 -134.3,726.9 -133.4,725.9 -133.4,730.8 -131.5,733.9 -126.7,735.2 -122.6,739.0 -123.9,743.0 -126.7,746.1 -128.9,750.7 -133.0,754.0 -137.2,755.7 -141.0,757.3 -146.7,760.6 -153.6,763.8 -158.4,767.1 -164.7,769.0 -169.4,771.0 -174.2,771.3 -175.1,769.3 -176.4,764.5 -176.7,759.6 -179.6,754.7 -182.7,748.7 -186.8,744.7 -188.1,742.0 -190.0,735.6 -193.8,730.4 -196.0,726.2 -199.5,721.3 -201.7,718.1 -201.1,714.5 -203.3,720.6 -205.2,719.2 -208.7,713.1 -209.6,708.4 -203.6,708.0 -201.4,702.4 -199.2,697.9 -198.2,692.2 -197.6,687.9 -199.5,687.9 -202.7,687.1 -207.4,689.9 -210.6,687.9 -215.0,687.1 -218.5,689.5 -222.6,687.5 -225.1,686.4 -225.8,682.4 -228.6,681.2 -227.0,677.2 -229.3,676.0 -228.6,673.1 -228.9,671.9 -229.6,670.6 -232.7,670.6 -235.9,671.9 -236.8,674.3 -234.9,673.5 -239.4,672.3 -240.3,674.7 -238.4,677.6 -239.4,678.8 -235.9,681.6 -235.9,683.6 -238.4,682.8 -238.4,685.2 -239.7,687.9 -241.0,688.3 -243.2,687.1 -244.8,683.2 -243.2,681.6 -245.4,679.2 -247.9,676.0 -250.5,672.3 -250.1,667.7 -251.1,665.2 -253.9,663.9 -258.1,660.9 -261.8,658.3 -264.4,655.3 -266.0,652.2 -268.2,653.1 -268.8,649.9 -272.6,651.3 -272.9,655.3 -271.0,657.9 -268.5,660.5 -266.6,664.8 -263.4,666.4 -260.9,666.4 -261.5,668.1 -258.1,670.2 -254.3,672.7 -253.3,673.9 -253.9,675.2 -257.4,672.7 -259.3,674.7 -257.7,678.4 -259.6,680.8 -261.2,682.8 -262.2,682.0 -261.2,679.2 -262.2,674.3 -265.0,671.9 -266.9,671.0 -270.7,669.4 -273.2,666.9 -277.0,664.3 -278.6,661.8 -279.6,657.9 -281.8,656.1 -284.0,655.7 -286.5,657.9 -288.4,658.8 -291.0,661.3 -295.1,660.5 -298.6,659.6 -301.7,661.3 -302.0,664.3 -301.7,666.4 -304.9,669.0 -309.0,671.0 -311.9,674.7 -312.8,676.8 -311.2,679.2 -313.4,681.2 -314.4,684.0 -317.5,685.2 -319.1,687.1 -325.8,687.5 -328.6,689.9 -330.8,689.5 -332.1,687.1 -334.0,685.6 -336.9,686.4ZM1447.1,536.2 1453.3,532.5 1462.1,530.0 1469.6,528.8 1465.8,525.0 1460.8,522.5 1454.6,516.2 1451.6,510.5 1457.1,506.2 1464.6,499.5 1473.3,493.0 1480.8,487.0 1489.6,490.5 1499.6,494.5 1512.1,497.0 1522.1,498.2 1530.1,501.8 1539.6,504.2 1548.3,509.2 1552.1,506.2 1558.3,501.8 1564.6,499.0 1572.3,493.2 1577.5,500.1 1588.7,501.0 1599.0,504.4 1611.0,512.1 1614.4,516.8 1628.2,516.1 1633.3,519.5 1636.8,527.6 1640.2,517.3 1654.0,513.9 1667.7,517.3 1672.9,526.8 1676.3,515.6 1677.2,506.1 1674.6,497.5 1672.9,488.9 1674.6,483.8 1681.5,482.1 1684.9,490.7 1683.5,501.0 1685.8,509.9 1691.8,520.7 1702.1,524.2 1707.3,525.0 1709.8,519.9 1707.3,509.6 1708.1,502.7 1715.9,502.7 1718.4,509.6 1719.3,521.6 1714.1,525.0 1710.7,527.6 1703.8,531.9 1695.2,532.8 1688.4,537.1 1684.9,542.2 1687.1,549.7 1682.0,558.7 1678.1,567.7 1676.2,578.0 1678.8,585.8 1683.3,590.3 1692.3,594.2 1700.0,598.7 1706.5,602.5 1714.2,605.1 1716.8,610.3 1719.4,618.0 1723.9,623.2 1727.1,627.7 1728.4,620.6 1726.1,612.9 1724.5,607.7 1727.1,603.8 1732.3,600.0 1734.9,594.8 1735.5,589.6 1732.3,584.5 1729.7,580.6 1732.3,575.5 1732.9,570.3 1732.3,563.8 1731.2,560.0 1734.9,557.7 1742.6,560.0 1750.3,562.6 1754.2,569.0 1757.4,576.7 1760.0,584.5 1763.2,587.3 1767.1,582.5 1770.3,576.7 1773.5,574.8 1777.4,581.9 1781.3,589.6 1784.5,597.4 1786.4,603.2 1794.2,605.8 1798.7,611.6 1800.0,616.1 1798.1,620.6 1792.9,623.2 1786.4,627.0 1780.0,627.7 1773.5,627.0 1767.1,628.6 1760.7,632.8 1755.5,637.6 1749.0,643.8 1743.2,650.9 1744.5,652.6 1751.0,647.0 1758.7,639.9 1763.9,634.5 1772.3,634.1 1773.5,636.7 1768.4,638.6 1765.8,642.5 1771.0,643.8 1772.3,647.7 1778.7,649.0 1781.3,650.9 1774.8,653.5 1769.0,657.0 1765.2,654.8 1764.5,650.9 1760.7,651.5 1758.1,655.4 1752.9,661.9 1750.3,667.0 1746.5,669.6 1742.6,671.1 1738.1,674.8 1734.9,679.9 1733.6,686.4 1731.0,692.8 1728.4,700.0 1725.7,701.7 1721.0,705.4 1719.7,710.9 1722.2,718.1 1724.1,723.4 1723.8,727.6 1722.6,729.7 1720.7,729.7 1718.4,726.2 1715.9,721.7 1715.3,717.0 1713.1,713.4 1710.5,712.7 1707.4,713.8 1703.6,711.3 1698.8,711.6 1694.4,712.0 1695.0,715.6 1691.5,715.6 1687.7,714.5 1683.0,713.8 1677.6,714.9 1673.5,717.8 1669.7,721.7 1669.4,726.9 1668.1,733.9 1667.8,739.7 1669.4,744.0 1672.5,749.7 1674.8,751.7 1678.2,753.4 1683.0,752.4 1687.7,752.0 1690.3,749.4 1691.2,744.7 1695.7,742.7 1700.4,742.4 1702.6,743.4 1700.7,747.4 1700.1,752.4 1698.2,755.7 1696.9,760.6 1700.4,761.2 1705.1,760.9 1709.9,761.2 1714.0,763.8 1713.4,770.3 1712.7,775.1 1712.7,777.4 1715.3,780.9 1717.8,783.1 1721.0,783.7 1724.1,782.5 1726.3,781.2 1728.9,781.8 1732.4,784.0 1730.8,788.8 1729.2,786.3 1729.8,785.0 1725.7,783.4 1722.9,785.6 1724.1,788.2 1721.3,788.8 1718.8,786.3 1715.0,785.6 1712.7,784.7 1712.4,783.1 1709.3,781.2 1708.0,781.2 1705.8,778.6 1706.1,776.4 1703.2,773.5 1700.1,770.6 1700.7,769.0 1697.2,769.7 1693.1,768.7 1688.1,767.4 1685.2,765.5 1680.1,760.6 1677.3,759.9 1671.9,761.6 1667.2,759.9 1661.5,758.0 1654.8,754.4 1649.8,753.0 1645.0,749.4 1643.1,746.1 1644.1,742.4 1642.5,738.6 1639.0,734.5 1635.5,730.4 1631.1,728.0 1631.1,724.5 1627.3,721.3 1624.1,717.4 1620.3,712.7 1619.4,708.4 1614.6,706.1 1614.0,709.1 1614.9,712.7 1618.4,717.0 1620.3,720.6 1622.9,724.1 1625.4,728.3 1627.3,732.8 1630.8,736.6 1629.2,737.6 1626.3,734.2 1622.5,731.5 1622.2,726.9 1619.1,724.1 1615.6,723.1 1613.7,720.6 1616.2,718.5 1613.7,714.9 1611.2,712.0 1608.3,707.3 1606.7,703.6 1606.1,700.9 1602.6,698.7 1600.1,697.2 1595.6,696.0 1595.3,693.4 1591.8,689.1 1591.2,686.8 1589.6,684.0 1588.0,681.2 1585.5,677.2 1583.9,673.1 1584.6,666.9 1583.3,662.6 1584.6,657.4 1585.2,647.7 1583.0,639.8 1582.7,637.5 1587.4,638.4 1589.9,642.2 1589.9,638.0 1588.7,634.6 1587.1,632.7 1582.4,629.8 1577.0,625.9 1573.2,622.4 1572.5,617.3 1569.1,612.1 1564.9,607.3 1565.3,602.9 1560.2,599.6 1558.6,592.8 1554.8,587.0 1550.1,584.0 1545.3,585.2 1541.2,582.2 1535.8,576.0 1529.5,574.8 1521.6,574.8 1516.8,571.6 1513.0,568.4 1508.3,569.7 1507.3,574.8 1502.6,577.9 1496.9,579.7 1498.5,571.6 1502.6,567.1 1499.4,567.8 1496.3,571.6 1492.2,577.9 1489.3,581.6 1490.6,585.8 1486.8,588.7 1482.0,592.8 1476.6,597.4 1469.4,601.3 1463.0,604.0 1456.7,606.2 1463.0,600.2 1469.4,598.5 1474.8,593.4 1478.5,589.3 1479.5,583.4 1475.7,582.2 1471.0,582.8 1464.6,583.4 1465.3,577.9 1462.1,574.8 1456.7,572.9 1454.2,568.4 1452.0,564.5 1455.1,558.5 1456.7,554.3 1461.5,554.3 1466.8,551.6 1468.4,544.4 1464.6,543.7 1458.9,544.4 1451.0,543.7ZM253.4,488.3 255.3,485.2 259.5,484.0 263.2,485.8 262.6,487.7 257.7,487.1 254.7,489.5Z"/>
<path fill="#f8f8f9" stroke="none" d="M541.3,644.5 545.1,639.9 551.6,635.4 556.7,634.8 560.6,636.7 564.5,641.2 561.9,642.5 556.7,640.6 551.6,641.2 546.4,643.8 542.6,645.7ZM555.5,650.3 558.0,649.0 560.6,654.1 560.0,661.9 558.0,667.0 555.5,664.4 554.2,656.7ZM564.5,649.0 569.6,647.7 576.1,650.3 578.7,654.1 574.8,656.7 572.2,661.9 570.3,663.2 568.4,656.7 564.5,652.8ZM569.6,665.7 574.8,663.2 582.5,659.9 583.8,661.2 577.4,665.1 572.2,667.7ZM583.8,658.6 590.3,656.7 592.9,658.0 587.7,660.6 584.5,660.6ZM921.3,666.4 920.4,663.9 921.3,660.5 923.6,657.4 926.7,652.2 927.7,649.5 930.8,645.9 934.0,647.7 939.1,648.6 935.6,651.3 938.8,654.8 940.3,655.7 945.1,653.1 948.9,652.2 951.4,654.4 954.6,656.1 959.3,659.6 964.1,663.9 964.4,667.7 959.3,670.2 953.0,670.2 948.2,669.0 943.5,666.0 938.8,666.0 932.4,669.4 924.8,669.4ZM943.5,650.8 944.4,647.2 949.2,644.9 953.9,643.6 956.8,643.1 953.0,646.8 952.4,650.4 949.2,651.3ZM983.1,649.9 987.8,646.3 995.7,644.0 1000.5,644.5 1000.5,651.7 994.8,652.2 994.8,655.3 991.6,656.1 995.7,660.9 998.9,663.1 998.9,667.3 1003.0,670.2 1005.8,669.4 1002.0,672.3 999.8,674.3 1002.0,677.2 1003.3,680.4 1003.0,685.2 1003.3,686.8 997.3,687.5 994.1,687.5 989.4,684.4 987.5,680.8 988.8,677.2 989.4,673.5 991.9,672.7 988.4,669.4 986.2,666.0 983.4,661.8 983.1,657.4 980.8,654.4ZM933.1,813.0 937.2,810.5 941.0,812.4 940.3,816.1 938.8,819.3 934.0,819.6 933.1,816.1ZM925.1,822.1 927.0,825.6 928.3,830.3 930.8,837.2 929.3,838.8 926.1,832.8 924.8,827.1ZM940.0,841.7 942.2,844.6 942.9,849.4 944.1,854.2 943.8,856.8 942.2,856.4 941.3,851.0 940.3,846.2ZM1017.9,649.5 1021.0,645.4 1025.8,646.3 1026.4,650.8 1022.6,655.3 1018.8,654.8 1017.2,652.2ZM927.7,574.8 930.8,567.1 935.6,567.1 937.2,571.6 934.0,573.5 930.8,575.4ZM941.9,568.4 944.1,560.5 947.3,560.5 946.7,567.1 944.1,569.0Z"/>
<path fill="none" stroke="#f6f7f7" stroke-width="1.5" stroke-linejoin="round" d="M386.5,503.2 386.5,572.9 392.8,574.8 397.6,581.0 403.9,576.6 408.7,582.2 411.8,591.6 415.6,595.1 421.3,598.5 420.7,602.9M443.5,634.6 531.4,634.6 541.6,637.5 549.2,639.4 553.0,638.0 564.4,644.5 565.3,646.8 568.5,648.6 571.6,651.7 572.0,661.8 569.7,665.6 571.6,667.3 582.7,662.6 582.7,660.1 589.7,659.2 591.3,656.6 595.4,653.1 606.5,653.1 608.7,651.3 610.6,647.2 613.7,642.2 616.6,642.6 618.2,643.6 618.2,649.9 620.1,652.2M462.1,703.6 469.4,703.2 481.4,708.0 490.3,708.0 490.3,706.1 495.7,706.1 500.7,710.5 502.3,714.2 506.1,716.3 508.3,713.4 511.8,713.4 515.3,718.8 517.8,721.7 519.1,725.5 525.1,727.1M540.9,765.5 541.6,763.2 542.5,760.6 546.6,760.3 544.7,756.7 544.7,754.7 550.4,754.7 550.4,760.9 553.3,761.6M550.4,754.7 553.3,752.4M550.1,765.8 547.6,767.7M550.1,765.8 553.0,767.4 554.9,769.0M550.1,765.8 550.4,760.9M556.4,770.3 560.6,767.7 563.7,765.1 569.4,763.8M561.5,776.4 566.9,777.4 567.8,777.0M570.4,785.6 571.0,781.5M587.8,784.0 586.2,788.8M607.1,773.5 603.3,776.7 601.7,782.5 603.6,785.0 603.6,788.2 609.6,789.4 612.8,792.3 619.1,792.0 618.2,797.3 619.7,800.8 618.2,802.7 620.7,807.7M620.7,807.7 611.8,806.1 611.8,809.6 611.2,812.1 612.8,814.6 611.5,824.6M611.5,824.6 609.0,823.4 603.3,819.0 599.5,815.5 594.4,811.8M594.4,811.8 591.3,810.2 587.5,809.2 583.3,807.0M594.4,811.8 593.8,816.1 590.3,819.6 585.2,822.1 584.3,825.6 581.1,827.1 578.6,825.3 578.6,822.1M643.5,785.3 639.4,788.8 638.7,792.6 640.6,795.1M620.7,807.7 622.9,808.9 625.4,808.9 629.6,806.7 630.2,803.6 628.6,798.6 634.3,798.9 638.1,797.6 640.6,795.1M640.6,795.1 643.2,795.7 642.8,797.3 644.4,799.2 643.2,804.2 646.0,807.4 649.2,806.7 653.9,805.5M651.7,792.9 651.4,795.7 649.5,797.3 651.4,800.8 653.9,805.5M661.8,793.2 660.6,795.7 661.8,800.5 660.3,804.2M653.9,805.5 655.8,805.2 660.3,804.2 665.3,804.5 669.1,798.9M611.5,824.6 602.0,827.5 598.9,834.4 601.7,840.4 604.2,843.0 609.3,841.4 609.3,846.2 612.5,845.8M612.5,845.8 615.3,851.0 614.4,857.4 613.1,861.0 614.4,863.9 612.5,867.2 609.9,870.2M612.5,845.8 616.6,846.2 622.0,842.6 626.1,842.3 626.1,848.7 629.2,851.0 634.0,852.6 639.7,854.2 641.3,855.1 642.2,862.9 648.2,863.3 648.5,867.2 650.8,869.5 648.9,874.8 648.5,876.2M612.5,867.2 615.0,872.8 615.9,878.2 617.8,884.9M617.8,884.9 622.9,881.5 628.6,884.2 634.3,882.9M634.3,882.9 635.6,877.2 637.1,874.1 645.7,873.2 648.5,876.2M648.5,876.2 649.5,882.5 656.5,883.2 657.4,889.0 660.9,889.4 659.9,894.5M634.3,882.9 639.7,888.3 646.6,891.8 650.4,894.2 647.3,900.1 653.9,900.9 659.9,894.5M659.9,894.5 662.8,897.7 662.5,900.1 656.1,904.0 650.4,910.9M650.4,910.9 653.0,910.9 656.8,913.4 661.2,916.7 663.7,920.1 663.7,923.8M650.4,910.9 648.5,917.5 647.9,924.6M617.8,884.9 620.7,885.6 616.3,890.7 615.9,897.0 611.8,904.8 611.2,910.2 609.9,915.6 611.2,921.9 609.6,929.5 607.7,934.6 608.0,942.5 605.8,948.5 605.5,956.9 606.1,965.4 606.8,972.1 604.9,978.9 603.3,988.2 601.1,995.5 603.9,1000.5 605.2,1003.0 611.2,1003.5 616.3,1004.6M615.6,1006.6 615.6,1018.3M805.2,721.0 791.0,721.0M805.2,722.4 805.2,726.9 794.8,726.9 794.8,735.6 791.6,737.3 791.6,743.0 778.9,743.0M825.8,693.7 827.4,699.8 828.9,704.7 823.2,706.5 821.0,709.5 816.3,712.7 812.2,714.2 805.2,717.4 805.2,722.4M805.2,722.4 817.5,730.4 836.5,743.7 838.4,746.4 842.9,748.1 842.9,750.7 846.0,750.4 851.1,749.1 856.5,744.4 870.7,735.6M870.7,735.6 869.1,732.8 865.0,731.8 862.5,726.2 864.1,721.7 864.1,716.3 862.8,712.0M862.8,712.0 861.2,705.0 859.0,703.6 856.5,698.7 859.0,694.1 859.9,686.8M862.8,712.0 865.3,706.5 869.1,703.6 869.1,700.9M911.9,706.5 911.9,740.7M911.9,740.7 949.5,740.7M911.9,740.7 911.9,747.4 908.7,747.4 908.7,749.1 883.4,735.9 880.2,737.3 870.7,735.6M908.7,749.1 908.7,761.6 905.2,762.9 903.3,768.7 902.0,771.6 905.2,777.0M880.2,737.3 881.8,744.0 881.8,757.6 875.5,765.5 875.5,768.1M875.5,768.1 870.7,769.7 864.4,769.3 858.1,769.3 851.7,768.1 845.4,768.7 844.1,774.5M875.5,768.1 877.7,770.6 878.6,771.0M846.0,750.4 846.0,759.0 843.8,762.5 835.9,763.8 833.4,763.8M817.5,730.4 812.2,730.4 815.3,762.2 803.3,762.2 798.6,762.9 796.3,761.9 794.1,764.5M780.5,760.6 786.8,758.6 790.6,761.2 794.1,764.5M794.1,764.5 796.7,772.2M796.7,772.2 804.2,772.2 807.4,779.3M807.4,779.3 813.7,779.0 815.3,778.6M815.3,778.6 816.0,774.2 819.1,770.0 822.6,768.1 829.6,764.2 833.4,763.8M833.4,763.8 835.9,769.0 839.7,772.2 840.3,773.8M823.9,776.7 831.2,776.7 835.6,776.7 840.3,773.8 844.1,774.5M815.3,778.6 823.2,780.2 823.9,776.7M823.9,780.9 824.5,786.3 822.6,791.0 822.9,795.4M832.7,776.7 834.3,784.7 834.6,789.4 836.5,792.3M835.6,776.7 837.8,783.1 837.8,792.0M844.1,774.5 841.6,783.1 841.3,791.3M809.0,797.6 805.8,791.0 806.5,787.5 807.4,779.3M790.6,782.8 796.3,779.9 799.2,782.8 800.1,784.7 803.0,788.2 806.5,787.5M796.3,789.7 800.1,784.7M796.7,772.2 789.4,771.6 785.3,776.7 785.3,777.0M779.9,772.2 785.3,771.6 789.4,771.6M779.6,770.0 783.7,769.3 789.1,769.0 784.3,768.1 779.9,768.4M859.9,796.4 862.2,791.6 866.0,789.4 870.1,789.4 873.9,781.5 876.4,776.7 878.6,771.0M878.6,771.0 881.2,779.9 880.8,787.8 878.6,792.6 878.6,796.1 880.2,798.9 883.7,804.5M863.7,804.2 868.5,804.5 874.8,804.5 878.6,804.9 883.7,805.8M863.7,808.3 868.5,808.3 868.5,804.5M880.8,787.8 886.5,787.2 891.6,786.3 892.9,783.1 899.2,781.2 905.2,777.0M905.2,777.0 907.7,783.1 909.3,784.7 912.8,788.5 916.6,792.6 919.4,795.1M919.4,795.1 911.9,795.7 903.9,798.3 897.6,797.6 891.6,800.5 889.7,805.2 889.1,811.4 885.0,817.7 883.4,822.4 880.8,824.9 878.6,826.8 875.5,826.5 873.9,825.9 871.3,829.7M867.9,823.7 870.4,822.1 869.4,819.0 872.3,818.7 876.4,819.0 878.3,817.4 878.0,813.0 876.7,811.4 878.0,807.7 874.8,804.5M871.3,827.1 873.9,825.9M908.7,784.0 916.6,781.5 921.3,781.8 926.1,779.9 930.8,780.6 935.6,774.2 937.2,772.9 937.8,777.4 940.3,781.5M948.2,766.1 947.3,771.3 943.5,776.7 940.7,781.5 937.2,786.3 940.3,789.4 943.5,794.5 946.7,797.3M946.7,797.3 953.0,800.1 957.7,800.5 962.5,799.2 965.3,799.2M965.3,799.2 974.8,796.1 984.3,786.3 981.2,786.3 972.0,783.4 968.2,779.0 969.1,775.1M965.3,799.2 962.5,802.7 962.5,814.3 964.4,816.8M948.2,766.1 952.7,764.2 959.3,765.5 966.9,771.9M966.9,771.9 965.0,775.1 968.5,776.7M946.7,797.3 940.3,798.3 941.9,801.4 943.5,806.1 940.3,810.8 940.0,814.6M940.0,814.6 951.7,820.9 956.8,826.2M930.2,800.5 931.8,804.5 928.3,807.7 926.7,811.8 926.4,815.8M930.2,800.5 935.6,799.8 940.3,798.3M919.4,795.1 926.1,797.3 930.2,800.5M926.4,815.8 929.3,814.6 940.0,814.6M926.4,815.8 925.1,820.9 926.1,825.6 926.4,831.9 930.2,837.6M925.1,819.9 929.3,819.0 930.2,814.9M925.5,825.3 929.3,822.4 929.3,819.0M930.2,837.6 936.9,841.1 940.3,841.4 942.2,848.1 948.2,848.4 954.6,847.1 960.6,844.6M936.9,841.1 938.1,846.2 936.2,854.5 941.3,857.1 944.4,864.9 946.0,859.0 942.2,848.1M930.2,837.6 924.2,838.2 922.6,840.7 923.2,844.6 922.6,849.4 927.0,850.0 927.0,853.9 923.6,852.6 918.8,848.7 912.8,846.8 910.0,847.4 908.7,845.8 908.7,852.6 902.4,852.6 902.4,862.9 906.8,867.5M871.3,829.7 873.9,830.0 885.3,830.0 888.4,836.9 894.1,836.6 896.0,833.4 901.7,834.4 901.7,841.4 903.0,846.8 908.7,845.8M870.1,866.5 877.0,866.9 891.3,866.9 900.5,868.8 906.8,867.5 912.8,868.2M899.2,869.8 899.2,882.2 896.0,882.2 896.0,891.8 896.0,904.4 887.8,905.5 885.0,905.1M912.8,868.2 915.0,872.2 920.4,877.2 925.8,882.9 918.2,887.6 914.4,891.4 913.4,894.9 905.5,893.5 902.4,898.4 898.2,898.7 896.0,891.8M912.8,868.2 918.2,868.8 924.2,862.3 928.9,861.0M928.9,861.0 936.9,864.6 936.5,872.2 935.6,879.8 931.8,883.6M925.8,882.9 931.8,883.6M931.8,883.6 934.0,890.7 934.0,898.7 936.9,898.7M928.9,861.0 928.3,858.4 937.8,855.8 936.2,854.5M918.2,908.7 922.9,905.1 925.8,908.3 922.0,912.3 919.1,911.2 918.2,908.7M930.8,895.6 934.0,895.6 934.0,898.7 931.5,900.5 930.2,898.0 930.8,895.6M948.2,766.1 949.8,757.3 954.9,754.0M804.6,666.4 806.8,666.0 811.8,666.4 813.1,667.7 810.9,670.2 810.6,675.6 809.0,676.0 810.6,681.6 809.3,685.6M827.0,660.1 834.9,662.6 838.1,663.9 842.9,664.3M856.5,658.3 854.9,653.1 854.3,649.0 854.9,646.8 852.0,647.7 854.6,642.6 856.8,641.2 858.7,634.6 853.0,632.2 851.1,632.2 847.9,629.8 845.7,628.3 840.6,624.4M843.5,622.9 848.6,622.9 851.7,625.9 852.0,629.3 853.0,632.2M851.7,625.9 851.7,620.9 854.9,618.8 855.5,613.1M860.3,604.6 864.1,605.1M878.0,609.9 877.4,615.7 879.3,619.8 880.2,624.9M880.2,624.9 871.0,628.3 876.4,635.6M876.4,635.6 873.9,641.7 866.0,641.7 863.1,641.7 859.6,640.3 856.8,641.2M854.9,649.0 859.6,647.7 861.2,649.5 865.6,645.9 863.1,641.7M865.6,644.9 871.3,644.0 876.1,646.3M876.4,635.6 880.2,634.6 886.2,636.1 886.9,639.4 883.7,644.5 878.6,646.3 876.1,646.3 875.8,649.9M880.2,624.9 884.3,627.4 892.2,632.2 896.0,633.2 904.3,634.2M886.2,636.1 892.2,632.2M904.3,634.2 908.7,626.9 907.4,622.4 907.4,616.8 908.4,609.9 904.9,607.3 895.4,607.3M904.9,607.3 904.3,604.0 899.5,602.4M907.1,609.9 914.4,607.8 916.9,600.2M899.2,597.9 911.5,596.2 916.9,600.2M909.6,587.5 919.4,589.9M919.4,589.9 921.3,577.9M919.4,589.9 922.0,597.4 916.9,600.2M922.0,597.4 930.5,600.7 930.8,606.2 936.2,612.1 931.8,614.7 933.4,619.3M907.4,622.4 912.8,620.4 919.8,621.9 929.6,623.4 933.4,619.3M933.4,619.3 940.3,618.3 945.4,627.9 953.0,630.3 959.6,631.8 958.4,640.3 953.6,643.6M904.3,634.2 903.0,637.5 911.5,640.8 916.9,638.0 921.3,638.0 925.1,641.7 927.7,646.8 922.0,650.8 926.7,652.2M916.9,638.0 921.7,644.9 922.0,650.8M903.0,637.5 905.2,639.4 899.5,647.7 897.0,648.1M897.0,648.1 900.5,653.5 904.6,655.3 904.6,656.6M904.6,656.6 911.9,658.8 918.2,657.0 923.2,658.8M886.9,639.4 892.2,640.3 896.0,638.4 903.0,637.5M883.7,644.5 885.0,646.3 892.2,649.0 897.0,648.1M875.8,650.8 881.2,650.8 885.0,646.3M892.2,649.0 892.9,653.5 894.1,653.5 893.5,659.6 891.3,663.9M882.7,652.2 885.0,657.4 888.4,661.8 891.3,663.9M882.7,652.2 886.5,652.2 892.9,653.5M904.6,656.6 903.6,661.8 903.6,664.8M903.6,664.8 905.5,669.0 915.0,669.0 916.3,667.3 921.3,666.0M916.3,667.3 915.0,670.6M896.0,675.6 899.2,670.6 905.5,669.0M894.1,666.4 897.6,665.2 897.6,670.2 899.2,670.6M897.6,665.2 901.7,664.8 903.6,664.8M897.6,662.2 901.7,664.8M893.5,659.6 897.0,662.6 897.6,665.2M868.2,581.6 871.3,571.6 871.7,563.8 870.7,551.6 877.0,544.4 881.8,531.6 885.0,521.2 889.7,512.9 896.7,508.5 897.9,507.7M897.9,507.7 907.7,517.9 907.4,530.0 909.0,534.7M897.9,507.7 901.1,505.9 914.1,508.5 915.0,500.5 921.3,498.7 924.5,507.7 930.5,501.4M924.2,508.1 922.9,515.4 927.7,519.6 924.5,526.1 928.0,535.5 926.7,542.2 929.3,547.3 932.4,555.7 924.5,567.1 920.7,571.6M946.7,690.7 948.6,687.1 953.0,687.1 961.5,686.0 966.6,685.6 974.5,685.6M974.5,685.6 972.6,680.8 973.2,676.8 974.5,675.6M974.5,675.6 971.0,673.9 970.4,669.8 964.1,668.1M959.3,660.1 967.2,660.9 972.0,663.5 979.6,666.4M979.6,666.4 984.0,669.4 986.5,666.9M979.6,666.4 979.9,669.8 975.1,669.0 970.4,669.8M975.1,669.0 977.0,671.0 979.9,676.4 978.6,678.8M974.5,675.6 978.6,678.8 984.6,675.6 987.5,680.8M966.6,686.0 963.1,688.3 963.1,694.9 955.5,700.2M955.5,700.2 949.2,704.3 945.7,702.8M955.5,700.2 956.8,705.0 949.8,707.3 953.0,710.9 951.4,712.7 948.9,713.1 947.0,715.6 943.5,714.9M945.7,702.8 945.1,707.3 943.5,714.5M941.0,708.0 943.2,714.5M943.8,701.3 945.7,700.6 948.6,697.2 947.9,695.6 946.3,695.5M945.7,700.6 945.7,702.8M956.8,705.0 960.6,705.8 966.0,708.7 974.2,715.6 979.9,716.0M979.9,716.0 982.7,712.7 984.6,712.7M979.9,716.0 983.1,718.1 985.9,718.1M974.5,685.6 976.4,690.3 978.3,691.4 976.4,697.9 978.6,701.7 984.0,706.1 983.7,709.1 986.2,712.7M968.2,759.3 969.5,756.0 972.9,756.0 979.6,756.7 981.5,757.6 985.3,753.4 988.1,752.0 997.3,750.7M997.3,750.7 1006.8,747.4 1009.0,740.7 1007.4,738.3M997.3,750.7 1000.8,758.6M996.0,733.2 999.2,737.6 1007.4,738.3M1007.4,738.3 1009.3,733.2 1011.2,730.8M993.5,731.5 994.8,731.8M1003.3,685.2 1006.2,684.4 1010.6,682.0 1014.1,682.4 1020.4,684.4 1026.1,687.9 1026.4,691.8M1026.4,691.8 1024.2,697.2 1024.5,701.7 1025.5,707.3 1028.3,707.6 1025.5,713.4M1025.5,713.4 1028.3,717.8 1031.5,719.2 1032.7,722.7 1033.1,724.5 1028.6,726.2 1027.7,729.7M1025.5,713.4 1030.5,714.9 1035.6,714.9 1042.6,713.1 1042.9,709.5 1047.3,707.6 1052.1,705.8 1052.1,701.7 1055.2,700.2 1054.3,697.9 1057.7,696.8 1059.3,692.6 1058.4,689.9 1063.4,687.5 1069.8,685.6M1026.4,691.8 1029.6,693.0 1032.7,690.7 1036.9,689.1 1040.7,684.4 1043.2,684.8 1047.3,686.0 1048.3,686.4 1052.7,684.0 1055.2,682.0 1057.4,680.8 1059.0,682.8 1060.0,687.5 1064.7,684.4 1069.8,685.6M988.1,646.8 986.9,641.2 982.4,640.3 979.9,637.5 981.5,633.7 980.8,630.3 986.5,630.3 986.9,626.9 993.5,621.4 999.2,622.4 1005.2,624.9 1009.0,626.9 1017.2,624.4 1022.3,625.9 1026.7,625.9 1025.8,619.8 1024.8,616.2 1028.0,614.7 1025.8,609.9 1039.1,607.3 1048.6,604.0 1057.1,602.9 1058.1,608.9 1065.3,609.4 1065.0,612.1 1068.2,612.1 1076.1,606.7 1074.8,608.3 1079.0,612.6 1085.9,625.4 1087.8,622.9 1096.7,624.9 1103.3,631.3 1109.3,633.7M1109.3,633.7 1104.0,639.4 1104.0,643.6 1096.0,643.1 1093.8,651.3 1086.2,653.1 1088.4,660.9 1086.5,665.2M1086.5,665.2 1081.2,667.7 1075.8,670.6 1071.7,671.9 1066.9,673.9 1066.0,676.8M1066.0,676.8 1066.6,680.4 1069.8,685.6M1086.5,665.2 1083.4,662.6 1072.0,662.2 1067.6,660.9 1065.3,664.3 1057.4,664.8 1054.9,666.4M1057.1,664.8 1051.1,668.5 1047.9,670.2 1043.8,669.4 1041.6,664.3 1041.9,661.8 1038.1,658.8 1028.9,659.6 1026.1,655.7 1017.9,650.4 1010.0,653.1 1010.0,669.0M1010.0,669.0 1005.8,666.0 1002.0,665.6 998.6,666.9M1010.0,669.0 1013.4,669.0 1018.2,662.6 1022.6,665.2 1022.9,668.5 1028.6,669.8 1030.2,674.3 1035.9,678.8 1043.2,684.8M1066.0,676.8 1055.8,676.0 1052.1,676.4 1052.1,671.5 1056.2,670.2 1060.6,672.3 1064.4,671.0 1060.0,668.1 1054.9,666.4M1048.3,686.4 1047.3,676.0 1052.1,671.5M1110.6,633.7 1113.8,632.2 1124.5,625.9 1130.5,627.4 1140.7,631.3 1143.8,627.4 1145.7,619.3 1156.2,623.4 1156.2,627.4 1160.9,629.3 1168.2,627.9 1176.1,633.2 1183.1,634.2 1190.0,632.2 1194.8,628.8 1202.1,630.8M1110.6,633.7 1111.2,636.5 1118.5,640.8 1120.7,644.5 1120.4,651.7 1128.6,653.5 1134.3,656.6 1137.5,663.1 1149.2,663.5 1154.9,663.9 1163.5,666.4 1165.0,667.7 1172.9,663.9 1178.3,663.9 1186.9,658.8 1185.0,655.3 1191.9,653.9 1195.1,651.7 1199.8,649.9 1202.1,646.8 1211.9,645.4 1211.9,644.0 1206.2,640.3 1204.0,640.8 1198.3,638.9 1202.1,630.8M1202.1,630.8 1205.9,632.2 1210.3,629.3 1210.3,626.9 1214.7,619.8 1214.7,617.3 1213.1,615.7 1215.7,613.1 1223.9,612.1 1231.2,615.7 1234.3,622.9 1235.6,626.4 1236.9,630.8 1242.3,632.7 1246.1,636.1 1247.3,640.3 1252.1,640.3 1254.9,638.4 1260.0,637.0 1257.1,643.1 1254.0,652.6 1250.2,651.7 1248.3,657.0 1248.0,662.2 1246.1,664.3M1246.1,664.3 1242.9,664.3 1238.1,666.0 1238.5,668.1 1234.3,666.9 1231.5,670.6 1226.1,674.7M1232.1,683.6 1234.7,681.2 1239.1,680.0M1174.5,742.4 1171.4,741.4 1170.1,737.6 1166.0,736.3 1163.5,738.0 1160.3,738.6 1157.8,738.3 1156.2,739.3M1156.2,739.3 1154.6,743.4 1153.0,742.4M1153.0,742.4 1149.5,742.4 1146.7,740.3 1147.6,737.6 1145.7,736.6 1145.1,733.5 1141.6,734.2 1141.9,730.1 1145.1,727.3 1145.1,721.7 1143.5,721.0 1142.6,718.8 1141.0,719.2M1141.0,719.2 1139.7,721.0 1140.0,723.1 1136.9,722.7 1134.0,726.9 1132.1,731.5 1130.5,734.5 1128.0,733.5 1128.3,735.9 1127.7,739.7 1126.1,740.7 1125.8,743.0 1124.8,745.1M1114.4,740.7 1114.1,737.6 1111.5,732.1 1113.8,728.7 1112.2,725.5 1116.9,726.9 1117.2,729.4 1125.2,730.4 1124.5,732.8 1121.4,733.9 1121.4,735.6 1123.6,735.2 1124.8,737.3 1125.8,741.0M1141.0,719.2 1137.2,714.9 1134.7,716.3 1132.1,715.3 1128.3,717.8 1125.5,720.3 1122.9,720.6M1122.9,720.6 1122.9,724.1 1118.8,723.8 1116.6,724.5 1113.8,723.1 1113.8,722.4 1116.3,719.2 1119.8,719.5 1122.9,720.6M1111.9,724.1 1111.5,720.3 1113.8,722.4M1111.5,720.3 1107.8,719.9 1104.3,719.2 1099.2,717.0 1096.4,714.5 1093.2,712.4 1089.1,712.0M1089.1,712.0 1086.2,712.7 1086.2,717.0 1089.7,718.5 1092.2,720.3 1096.4,722.0 1100.8,722.7 1102.7,724.5 1107.8,725.2 1111.5,725.5 1111.9,724.1M1089.1,712.0 1085.0,709.1 1081.8,707.3 1081.2,703.2 1083.4,703.6 1082.7,701.7 1082.1,699.8 1083.4,696.4 1080.5,695.6 1079.6,692.2M1079.6,692.2 1073.9,691.0 1072.9,687.5 1069.8,685.6M1079.6,692.2 1076.4,694.1 1066.9,695.3 1066.3,696.8 1067.6,701.7 1068.5,702.4 1071.0,704.3 1068.2,706.5 1068.5,709.1 1065.0,713.1 1063.1,716.7 1061.2,719.9 1056.2,719.9 1052.7,723.8 1054.9,725.2 1055.2,728.0 1056.8,729.7 1057.4,732.5 1051.1,732.5 1048.6,734.9M1153.0,742.4 1149.5,746.1M1149.5,746.1 1147.6,747.1 1145.7,748.1 1142.9,748.1 1142.2,752.0 1141.0,752.4 1142.2,755.7 1144.8,759.0 1143.5,763.5 1146.4,767.7 1146.7,771.3 1147.9,774.2 1145.4,778.3 1144.8,779.9M1149.5,746.1 1151.1,749.1 1153.3,749.1 1152.4,755.7 1155.9,753.4 1157.4,754.4 1161.6,753.0 1164.1,756.0 1164.4,759.3 1166.9,761.9 1166.6,765.5 1165.7,766.1M1156.2,739.3 1158.7,743.7 1161.9,744.7 1163.5,746.1 1161.6,748.7 1165.4,751.7 1169.8,757.3 1172.3,760.9 1172.9,764.5 1172.9,765.8M1172.9,765.8 1173.3,772.6 1168.2,774.2 1167.6,776.7 1163.1,778.6M1165.7,766.1 1158.7,766.1 1157.1,768.4 1158.4,774.5M1165.7,766.1 1168.2,765.8 1172.9,765.8M1149.5,791.3 1152.7,793.5 1155.9,792.0M1179.6,805.2 1182.4,808.6 1186.6,808.3 1190.0,806.7 1195.1,806.7 1197.0,802.7 1198.3,801.4 1198.6,797.9 1204.9,798.3M1279.0,819.6 1279.0,840.1"/>
</g>
<path d="M259.48,368.8V1251.7M450.24,368.8V1251.7M641.01,368.8V1251.7M831.77,368.8V1251.7M1022.53,368.8V1251.7M1213.30,368.8V1251.7M1404.06,368.8V1251.7M177.3,441.1H1485.7M177.3,570.55H1485.7M177.3,710.39H1485.7M177.3,810.46H1485.7M177.3,910.53H1485.7M177.3,1050.37H1485.7M177.3,1179.82H1485.7" stroke="#3c5688" stroke-width="1.1" fill="none"/>
<rect x="175.15" y="366.65" width="1312.7" height="887.2" fill="none" stroke="#1b4170" stroke-width="4.3"/>
<line x1="194" y1="290.3" x2="529.5" y2="717.2" stroke="#e6211d" stroke-width="5.4"/>
<line x1="699" y1="285" x2="697" y2="705" stroke="#1f66a3" stroke-width="4.0"/>
<line x1="1535.3" y1="528.4" x2="487.3" y2="1110.6" stroke="#a51c22" stroke-width="5.4"/>
<line x1="1535.3" y1="528.4" x2="1281.4" y2="1088.4" stroke="#a51c22" stroke-width="5.4"/>
<line x1="1634.3" y1="325.2" x2="1053" y2="754.6" stroke="#1b4170" stroke-width="5.2"/>
<line x1="1634.3" y1="325.2" x2="1064.7" y2="790.3" stroke="#1b4170" stroke-width="5.2"/>
<line x1="1634.3" y1="325.2" x2="1127.7" y2="775.4" stroke="#1b4170" stroke-width="5.2"/>
<line x1="1634.3" y1="325.2" x2="1112.8" y2="855.8" stroke="#1b4170" stroke-width="5.2"/>
<g fill="#ffd800" stroke="#195fa6" stroke-width="1.9">
<circle cx="588.8" cy="696.4" r="5"/><circle cx="589.2" cy="697.2" r="5"/><circle cx="589.6" cy="698.0" r="5"/><circle cx="590.0" cy="698.7" r="5"/><circle cx="590.4" cy="699.5" r="5"/><circle cx="590.8" cy="700.3" r="5"/><circle cx="591.1" cy="701.1" r="5"/><circle cx="591.5" cy="701.9" r="5"/><circle cx="591.9" cy="702.7" r="5"/><circle cx="592.3" cy="703.4" r="5"/><circle cx="592.7" cy="704.2" r="5"/><circle cx="593.1" cy="705.0" r="5"/><circle cx="556.0" cy="730.0" r="5"/><circle cx="556.6" cy="730.7" r="5"/><circle cx="557.1" cy="731.4" r="5"/><circle cx="557.7" cy="732.1" r="5"/><circle cx="558.2" cy="732.8" r="5"/><circle cx="558.8" cy="733.4" r="5"/><circle cx="559.4" cy="734.1" r="5"/><circle cx="559.9" cy="734.8" r="5"/><circle cx="560.5" cy="735.5" r="5"/><circle cx="517.7" cy="760.5" r="5"/><circle cx="517.7" cy="761.5" r="5"/><circle cx="542.5" cy="769.5" r="5"/><circle cx="543.0" cy="770.5" r="5"/><circle cx="543.5" cy="771.5" r="5"/><circle cx="837.5" cy="898.0" r="5"/><circle cx="838.0" cy="898.7" r="5"/><circle cx="838.6" cy="899.4" r="5"/><circle cx="839.1" cy="900.1" r="5"/><circle cx="839.7" cy="900.8" r="5"/><circle cx="840.2" cy="901.5" r="5"/><circle cx="840.8" cy="902.2" r="5"/><circle cx="841.3" cy="902.9" r="5"/><circle cx="841.9" cy="903.7" r="5"/><circle cx="842.4" cy="904.4" r="5"/><circle cx="843.0" cy="905.1" r="5"/><circle cx="843.5" cy="905.8" r="5"/><circle cx="844.1" cy="906.5" r="5"/><circle cx="844.6" cy="907.2" r="5"/><circle cx="845.2" cy="907.9" r="5"/><circle cx="845.7" cy="908.6" r="5"/><circle cx="595.4" cy="670.9" r="5"/><circle cx="596.0" cy="671.5" r="5"/><circle cx="596.6" cy="672.1" r="5"/><circle cx="597.2" cy="672.7" r="5"/><circle cx="597.8" cy="673.3" r="5"/><circle cx="598.4" cy="673.9" r="5"/><circle cx="599.0" cy="674.5" r="5"/><circle cx="599.6" cy="675.0" r="5"/><circle cx="600.2" cy="675.6" r="5"/><circle cx="600.8" cy="676.2" r="5"/><circle cx="601.4" cy="676.8" r="5"/><circle cx="602.0" cy="677.4" r="5"/><circle cx="602.6" cy="678.0" r="5"/><circle cx="603.2" cy="678.6" r="5"/><circle cx="422.5" cy="634.5" r="5"/><circle cx="422.9" cy="635.4" r="5"/><circle cx="423.3" cy="636.3" r="5"/><circle cx="423.8" cy="637.2" r="5"/><circle cx="424.2" cy="638.2" r="5"/><circle cx="424.6" cy="639.1" r="5"/><circle cx="425.0" cy="640.0" r="5"/><circle cx="1265.0" cy="696.0" r="5"/><circle cx="1265.8" cy="696.9" r="5"/><circle cx="1266.6" cy="697.8" r="5"/><circle cx="1267.3" cy="698.7" r="5"/><circle cx="1268.1" cy="699.6" r="5"/><circle cx="1268.9" cy="700.4" r="5"/><circle cx="1269.7" cy="701.3" r="5"/><circle cx="1270.4" cy="702.2" r="5"/><circle cx="1271.2" cy="703.1" r="5"/><circle cx="1272.0" cy="704.0" r="5"/><circle cx="789.0" cy="664.0" r="5"/><circle cx="789.9" cy="664.6" r="5"/><circle cx="790.8" cy="665.1" r="5"/><circle cx="791.7" cy="665.7" r="5"/><circle cx="792.6" cy="666.2" r="5"/><circle cx="793.4" cy="666.8" r="5"/><circle cx="794.3" cy="667.3" r="5"/><circle cx="795.2" cy="667.9" r="5"/><circle cx="796.1" cy="668.4" r="5"/><circle cx="797.0" cy="669.0" r="5"/><circle cx="797.0" cy="680.0" r="5"/><circle cx="798.0" cy="680.5" r="5"/><circle cx="799.0" cy="681.1" r="5"/><circle cx="800.0" cy="681.6" r="5"/><circle cx="801.0" cy="682.2" r="5"/><circle cx="802.0" cy="682.7" r="5"/><circle cx="803.0" cy="683.3" r="5"/><circle cx="804.0" cy="683.8" r="5"/><circle cx="805.0" cy="684.4" r="5"/><circle cx="806.0" cy="684.9" r="5"/><circle cx="807.0" cy="685.5" r="5"/><circle cx="808.0" cy="686.0" r="5"/><circle cx="779.0" cy="716.0" r="5"/><circle cx="779.6" cy="716.9" r="5"/><circle cx="780.1" cy="717.8" r="5"/><circle cx="780.7" cy="718.7" r="5"/><circle cx="781.2" cy="719.6" r="5"/><circle cx="781.8" cy="720.4" r="5"/><circle cx="782.3" cy="721.3" r="5"/><circle cx="782.9" cy="722.2" r="5"/><circle cx="783.4" cy="723.1" r="5"/><circle cx="784.0" cy="724.0" r="5"/><circle cx="787.5" cy="631.0" r="5"/><circle cx="788.7" cy="631.5" r="5"/><circle cx="789.8" cy="632.0" r="5"/><circle cx="791.0" cy="632.5" r="5"/><circle cx="802.0" cy="636.0" r="5"/><circle cx="802.8" cy="636.8" r="5"/><circle cx="803.5" cy="637.5" r="5"/><circle cx="804.2" cy="638.2" r="5"/><circle cx="805.0" cy="639.0" r="5"/><circle cx="933.0" cy="692.0" r="5"/><circle cx="933.5" cy="693.0" r="5"/><circle cx="934.0" cy="694.0" r="5"/><circle cx="934.5" cy="695.0" r="5"/><circle cx="935.0" cy="696.0" r="5"/><circle cx="935.5" cy="697.0" r="5"/><circle cx="936.0" cy="698.0" r="5"/><circle cx="1063.5" cy="792.5" r="5"/><circle cx="1064.1" cy="793.4" r="5"/><circle cx="1064.8" cy="794.2" r="5"/><circle cx="1065.4" cy="795.1" r="5"/><circle cx="1066.0" cy="796.0" r="5"/><circle cx="1101.0" cy="784.5" r="5"/><circle cx="1102.1" cy="784.5" r="5"/><circle cx="1103.2" cy="784.5" r="5"/><circle cx="1104.3" cy="784.5" r="5"/><circle cx="1105.4" cy="784.5" r="5"/><circle cx="1106.5" cy="784.5" r="5"/><circle cx="1107.5" cy="784.5" r="5"/><circle cx="1108.6" cy="784.5" r="5"/><circle cx="1109.7" cy="784.5" r="5"/><circle cx="1110.8" cy="784.5" r="5"/><circle cx="1111.9" cy="784.5" r="5"/><circle cx="1113.0" cy="784.5" r="5"/><circle cx="260.8" cy="569.5" r="5"/><circle cx="261.8" cy="576.5" r="5"/><circle cx="272.5" cy="585.2" r="5"/><circle cx="291.2" cy="602.0" r="5"/><circle cx="288.0" cy="607.0" r="5"/><circle cx="293.0" cy="603.2" r="5"/><circle cx="260.8" cy="608.8" r="5"/><circle cx="278.2" cy="620.5" r="5"/><circle cx="319.0" cy="613.0" r="5"/><circle cx="296.8" cy="651.2" r="5"/><circle cx="376.5" cy="573.2" r="5"/><circle cx="372.0" cy="578.2" r="5"/><circle cx="359.0" cy="583.8" r="5"/><circle cx="364.0" cy="589.2" r="5"/><circle cx="367.5" cy="592.0" r="5"/><circle cx="359.5" cy="603.8" r="5"/><circle cx="417.5" cy="624.0" r="5"/><circle cx="422.5" cy="634.5" r="5"/><circle cx="428.2" cy="633.0" r="5"/><circle cx="438.8" cy="633.0" r="5"/><circle cx="423.8" cy="637.5" r="5"/><circle cx="425.0" cy="640.0" r="5"/><circle cx="435.0" cy="645.5" r="5"/><circle cx="430.0" cy="650.0" r="5"/><circle cx="433.8" cy="652.0" r="5"/><circle cx="434.5" cy="664.5" r="5"/><circle cx="417.5" cy="667.5" r="5"/><circle cx="426.2" cy="667.5" r="5"/><circle cx="433.0" cy="671.2" r="5"/><circle cx="425.0" cy="675.5" r="5"/><circle cx="425.8" cy="683.0" r="5"/><circle cx="439.5" cy="683.2" r="5"/><circle cx="442.5" cy="693.0" r="5"/><circle cx="447.0" cy="693.0" r="5"/><circle cx="453.8" cy="696.2" r="5"/><circle cx="384.2" cy="667.5" r="5"/><circle cx="385.2" cy="676.8" r="5"/><circle cx="388.0" cy="698.5" r="5"/><circle cx="626.0" cy="489.8" r="5"/><circle cx="677.5" cy="582.5" r="5"/><circle cx="677.0" cy="586.2" r="5"/><circle cx="677.5" cy="590.0" r="5"/><circle cx="681.2" cy="605.5" r="5"/><circle cx="681.2" cy="624.2" r="5"/><circle cx="597.5" cy="672.5" r="5"/><circle cx="601.2" cy="674.5" r="5"/><circle cx="598.8" cy="676.2" r="5"/><circle cx="609.2" cy="686.2" r="5"/><circle cx="611.2" cy="689.5" r="5"/><circle cx="617.5" cy="690.0" r="5"/><circle cx="640.5" cy="682.0" r="5"/><circle cx="661.8" cy="674.5" r="5"/><circle cx="667.0" cy="670.0" r="5"/><circle cx="676.0" cy="664.5" r="5"/><circle cx="648.0" cy="696.2" r="5"/><circle cx="652.5" cy="693.0" r="5"/><circle cx="665.0" cy="697.5" r="5"/><circle cx="590.0" cy="697.5" r="5"/><circle cx="849.0" cy="367.5" r="5"/><circle cx="835.8" cy="394.2" r="5"/><circle cx="841.5" cy="390.5" r="5"/><circle cx="860.2" cy="409.8" r="5"/><circle cx="856.8" cy="426.2" r="5"/><circle cx="809.5" cy="435.0" r="5"/><circle cx="774.5" cy="489.2" r="5"/><circle cx="804.0" cy="495.0" r="5"/><circle cx="806.0" cy="501.5" r="5"/><circle cx="791.2" cy="501.0" r="5"/><circle cx="792.0" cy="507.5" r="5"/><circle cx="827.8" cy="495.5" r="5"/><circle cx="850.5" cy="505.5" r="5"/><circle cx="846.5" cy="507.0" r="5"/><circle cx="835.0" cy="514.5" r="5"/><circle cx="852.0" cy="518.8" r="5"/><circle cx="843.2" cy="517.5" r="5"/><circle cx="840.8" cy="520.0" r="5"/><circle cx="845.8" cy="522.5" r="5"/><circle cx="838.0" cy="529.5" r="5"/><circle cx="842.0" cy="533.0" r="5"/><circle cx="840.0" cy="536.2" r="5"/><circle cx="805.0" cy="520.0" r="5"/><circle cx="811.0" cy="520.8" r="5"/><circle cx="814.5" cy="536.8" r="5"/><circle cx="792.0" cy="545.8" r="5"/><circle cx="806.8" cy="548.0" r="5"/><circle cx="720.8" cy="530.2" r="5"/><circle cx="705.2" cy="547.0" r="5"/><circle cx="712.5" cy="552.5" r="5"/><circle cx="734.5" cy="543.8" r="5"/><circle cx="739.8" cy="547.8" r="5"/><circle cx="749.0" cy="553.0" r="5"/><circle cx="755.2" cy="561.2" r="5"/><circle cx="741.2" cy="569.2" r="5"/><circle cx="746.5" cy="570.0" r="5"/><circle cx="742.8" cy="569.5" r="5"/><circle cx="757.8" cy="571.2" r="5"/><circle cx="764.5" cy="577.0" r="5"/><circle cx="781.2" cy="585.5" r="5"/><circle cx="784.8" cy="597.5" r="5"/><circle cx="742.8" cy="592.2" r="5"/><circle cx="757.0" cy="592.5" r="5"/><circle cx="765.2" cy="591.2" r="5"/><circle cx="761.0" cy="598.2" r="5"/><circle cx="771.5" cy="609.8" r="5"/><circle cx="725.0" cy="610.8" r="5"/><circle cx="735.2" cy="611.8" r="5"/><circle cx="754.5" cy="626.8" r="5"/><circle cx="794.5" cy="619.0" r="5"/><circle cx="788.2" cy="631.8" r="5"/><circle cx="792.0" cy="631.8" r="5"/><circle cx="803.2" cy="636.2" r="5"/><circle cx="802.0" cy="640.0" r="5"/><circle cx="803.2" cy="649.2" r="5"/><circle cx="806.2" cy="649.2" r="5"/><circle cx="737.8" cy="647.5" r="5"/><circle cx="758.2" cy="659.5" r="5"/><circle cx="791.5" cy="662.0" r="5"/><circle cx="793.2" cy="666.2" r="5"/><circle cx="791.2" cy="668.0" r="5"/><circle cx="795.8" cy="668.0" r="5"/><circle cx="727.0" cy="667.0" r="5"/><circle cx="728.2" cy="676.2" r="5"/><circle cx="720.8" cy="675.8" r="5"/><circle cx="712.5" cy="680.8" r="5"/><circle cx="719.0" cy="682.0" r="5"/><circle cx="726.5" cy="685.5" r="5"/><circle cx="700.8" cy="690.5" r="5"/><circle cx="707.5" cy="692.0" r="5"/><circle cx="692.0" cy="696.2" r="5"/><circle cx="780.0" cy="694.2" r="5"/><circle cx="802.0" cy="680.0" r="5"/><circle cx="797.0" cy="681.2" r="5"/><circle cx="794.5" cy="685.0" r="5"/><circle cx="798.2" cy="689.5" r="5"/><circle cx="801.5" cy="696.2" r="5"/><circle cx="809.0" cy="686.2" r="5"/><circle cx="819.0" cy="686.2" r="5"/><circle cx="825.2" cy="686.2" r="5"/><circle cx="822.0" cy="688.2" r="5"/><circle cx="685.5" cy="579.5" r="5"/><circle cx="687.5" cy="582.0" r="5"/><circle cx="687.5" cy="609.2" r="5"/><circle cx="686.0" cy="625.0" r="5"/><circle cx="689.5" cy="648.2" r="5"/><circle cx="888.2" cy="550.8" r="5"/><circle cx="889.8" cy="578.8" r="5"/><circle cx="868.8" cy="591.0" r="5"/><circle cx="862.5" cy="599.2" r="5"/><circle cx="880.8" cy="597.2" r="5"/><circle cx="840.2" cy="668.8" r="5"/><circle cx="847.0" cy="671.2" r="5"/><circle cx="845.8" cy="675.8" r="5"/><circle cx="855.0" cy="674.5" r="5"/><circle cx="848.2" cy="681.2" r="5"/><circle cx="866.5" cy="668.8" r="5"/><circle cx="870.8" cy="670.0" r="5"/><circle cx="876.2" cy="674.2" r="5"/><circle cx="873.5" cy="683.2" r="5"/><circle cx="925.8" cy="662.5" r="5"/><circle cx="925.0" cy="664.5" r="5"/><circle cx="946.2" cy="658.5" r="5"/><circle cx="904.8" cy="678.8" r="5"/><circle cx="888.2" cy="686.2" r="5"/><circle cx="892.0" cy="688.8" r="5"/><circle cx="900.0" cy="690.0" r="5"/><circle cx="911.5" cy="688.0" r="5"/><circle cx="918.2" cy="693.0" r="5"/><circle cx="909.5" cy="696.2" r="5"/><circle cx="922.5" cy="697.5" r="5"/><circle cx="932.8" cy="691.2" r="5"/><circle cx="935.8" cy="694.5" r="5"/><circle cx="1366.2" cy="589.0" r="5"/><circle cx="1377.0" cy="597.0" r="5"/><circle cx="1373.0" cy="605.0" r="5"/><circle cx="1355.5" cy="610.8" r="5"/><circle cx="1394.5" cy="600.8" r="5"/><circle cx="1400.8" cy="605.5" r="5"/><circle cx="1365.5" cy="620.5" r="5"/><circle cx="1364.5" cy="624.5" r="5"/><circle cx="1345.0" cy="640.0" r="5"/><circle cx="1327.0" cy="646.2" r="5"/><circle cx="1339.2" cy="654.5" r="5"/><circle cx="1367.0" cy="651.2" r="5"/><circle cx="1372.5" cy="650.0" r="5"/><circle cx="1373.8" cy="661.2" r="5"/><circle cx="1373.2" cy="665.5" r="5"/><circle cx="1384.5" cy="671.8" r="5"/><circle cx="1340.0" cy="666.8" r="5"/><circle cx="1321.2" cy="664.2" r="5"/><circle cx="1323.8" cy="674.5" r="5"/><circle cx="1320.8" cy="676.8" r="5"/><circle cx="1348.8" cy="679.5" r="5"/><circle cx="1373.8" cy="679.5" r="5"/><circle cx="1394.2" cy="683.8" r="5"/><circle cx="1335.0" cy="686.2" r="5"/><circle cx="1338.0" cy="687.5" r="5"/><circle cx="1378.8" cy="691.2" r="5"/><circle cx="1401.8" cy="694.5" r="5"/><circle cx="1273.8" cy="655.5" r="5"/><circle cx="1257.5" cy="667.0" r="5"/><circle cx="1263.8" cy="666.2" r="5"/><circle cx="1283.8" cy="667.0" r="5"/><circle cx="1290.0" cy="669.5" r="5"/><circle cx="1295.5" cy="671.8" r="5"/><circle cx="1260.0" cy="673.8" r="5"/><circle cx="1287.5" cy="675.5" r="5"/><circle cx="1289.5" cy="680.0" r="5"/><circle cx="1250.0" cy="680.0" r="5"/><circle cx="1260.0" cy="682.5" r="5"/><circle cx="1259.5" cy="687.5" r="5"/><circle cx="1271.2" cy="670.0" r="5"/><circle cx="1290.5" cy="694.5" r="5"/><circle cx="1304.5" cy="695.5" r="5"/><circle cx="1313.8" cy="695.8" r="5"/><circle cx="1318.8" cy="697.0" r="5"/><circle cx="1265.0" cy="697.5" r="5"/><circle cx="1278.8" cy="697.5" r="5"/><circle cx="407.5" cy="704.5" r="5"/><circle cx="448.8" cy="701.0" r="5"/><circle cx="455.0" cy="702.8" r="5"/><circle cx="457.5" cy="706.5" r="5"/><circle cx="586.2" cy="702.8" r="5"/><circle cx="592.5" cy="704.0" r="5"/><circle cx="616.2" cy="702.0" r="5"/><circle cx="627.5" cy="705.8" r="5"/><circle cx="642.5" cy="701.0" r="5"/><circle cx="650.0" cy="701.5" r="5"/><circle cx="457.5" cy="711.5" r="5"/><circle cx="458.0" cy="715.2" r="5"/><circle cx="477.0" cy="719.0" r="5"/><circle cx="476.2" cy="721.0" r="5"/><circle cx="264.0" cy="730.8" r="5"/><circle cx="330.0" cy="730.8" r="5"/><circle cx="337.0" cy="735.5" r="5"/><circle cx="361.0" cy="724.8" r="5"/><circle cx="380.2" cy="718.0" r="5"/><circle cx="260.8" cy="751.0" r="5"/><circle cx="288.0" cy="745.0" r="5"/><circle cx="293.8" cy="748.0" r="5"/><circle cx="295.8" cy="759.2" r="5"/><circle cx="309.5" cy="756.8" r="5"/><circle cx="325.8" cy="747.5" r="5"/><circle cx="318.2" cy="767.8" r="5"/><circle cx="350.2" cy="755.2" r="5"/><circle cx="361.8" cy="752.8" r="5"/><circle cx="388.2" cy="740.2" r="5"/><circle cx="386.5" cy="746.0" r="5"/><circle cx="392.5" cy="756.0" r="5"/><circle cx="386.2" cy="762.8" r="5"/><circle cx="374.2" cy="766.0" r="5"/><circle cx="375.0" cy="771.5" r="5"/><circle cx="380.0" cy="772.0" r="5"/><circle cx="383.2" cy="772.2" r="5"/><circle cx="378.0" cy="778.5" r="5"/><circle cx="391.5" cy="776.8" r="5"/><circle cx="380.0" cy="785.5" r="5"/><circle cx="385.5" cy="789.5" r="5"/><circle cx="385.5" cy="796.0" r="5"/><circle cx="401.8" cy="781.8" r="5"/><circle cx="402.5" cy="791.8" r="5"/><circle cx="407.8" cy="797.0" r="5"/><circle cx="412.0" cy="784.8" r="5"/><circle cx="415.5" cy="772.8" r="5"/><circle cx="425.0" cy="785.2" r="5"/><circle cx="424.2" cy="786.0" r="5"/><circle cx="430.0" cy="793.5" r="5"/><circle cx="440.0" cy="798.5" r="5"/><circle cx="445.0" cy="802.2" r="5"/><circle cx="443.0" cy="771.0" r="5"/><circle cx="456.2" cy="802.2" r="5"/><circle cx="468.8" cy="797.8" r="5"/><circle cx="469.5" cy="805.8" r="5"/><circle cx="353.8" cy="774.2" r="5"/><circle cx="307.5" cy="784.2" r="5"/><circle cx="269.5" cy="787.8" r="5"/><circle cx="275.0" cy="798.5" r="5"/><circle cx="303.5" cy="802.8" r="5"/><circle cx="327.2" cy="797.0" r="5"/><circle cx="345.5" cy="791.5" r="5"/><circle cx="332.0" cy="810.0" r="5"/><circle cx="390.0" cy="809.0" r="5"/><circle cx="394.2" cy="816.5" r="5"/><circle cx="407.8" cy="809.0" r="5"/><circle cx="399.0" cy="830.2" r="5"/><circle cx="404.5" cy="850.5" r="5"/><circle cx="445.0" cy="813.5" r="5"/><circle cx="483.2" cy="774.2" r="5"/><circle cx="492.5" cy="781.0" r="5"/><circle cx="500.0" cy="779.5" r="5"/><circle cx="499.5" cy="784.8" r="5"/><circle cx="482.5" cy="787.8" r="5"/><circle cx="481.8" cy="793.5" r="5"/><circle cx="480.0" cy="801.5" r="5"/><circle cx="480.0" cy="806.0" r="5"/><circle cx="480.0" cy="809.8" r="5"/><circle cx="480.2" cy="820.2" r="5"/><circle cx="491.5" cy="802.0" r="5"/><circle cx="508.8" cy="803.0" r="5"/><circle cx="469.5" cy="735.8" r="5"/><circle cx="473.8" cy="732.8" r="5"/><circle cx="485.5" cy="735.2" r="5"/><circle cx="488.0" cy="736.5" r="5"/><circle cx="491.2" cy="742.2" r="5"/><circle cx="516.8" cy="757.8" r="5"/><circle cx="516.2" cy="759.5" r="5"/><circle cx="531.2" cy="720.2" r="5"/><circle cx="540.8" cy="721.5" r="5"/><circle cx="548.2" cy="717.2" r="5"/><circle cx="555.0" cy="714.5" r="5"/><circle cx="557.0" cy="725.2" r="5"/><circle cx="550.0" cy="730.2" r="5"/><circle cx="563.8" cy="732.0" r="5"/><circle cx="530.0" cy="732.2" r="5"/><circle cx="534.5" cy="732.8" r="5"/><circle cx="540.8" cy="737.0" r="5"/><circle cx="545.8" cy="740.2" r="5"/><circle cx="529.0" cy="742.8" r="5"/><circle cx="537.5" cy="725.2" r="5"/><circle cx="557.5" cy="732.8" r="5"/><circle cx="582.5" cy="719.0" r="5"/><circle cx="588.2" cy="710.2" r="5"/><circle cx="595.0" cy="716.5" r="5"/><circle cx="598.0" cy="710.2" r="5"/><circle cx="580.0" cy="730.2" r="5"/><circle cx="586.2" cy="726.5" r="5"/><circle cx="591.2" cy="732.8" r="5"/><circle cx="596.2" cy="729.0" r="5"/><circle cx="580.0" cy="733.2" r="5"/><circle cx="597.5" cy="731.5" r="5"/><circle cx="577.5" cy="726.5" r="5"/><circle cx="592.5" cy="724.0" r="5"/><circle cx="615.0" cy="727.8" r="5"/><circle cx="614.5" cy="709.8" r="5"/><circle cx="568.0" cy="747.0" r="5"/><circle cx="577.8" cy="757.2" r="5"/><circle cx="623.0" cy="743.8" r="5"/><circle cx="593.2" cy="759.5" r="5"/><circle cx="601.2" cy="765.2" r="5"/><circle cx="611.2" cy="763.5" r="5"/><circle cx="611.2" cy="760.2" r="5"/><circle cx="634.0" cy="756.5" r="5"/><circle cx="636.2" cy="763.5" r="5"/><circle cx="629.5" cy="767.2" r="5"/><circle cx="624.2" cy="776.5" r="5"/><circle cx="645.0" cy="759.8" r="5"/><circle cx="650.5" cy="759.2" r="5"/><circle cx="581.2" cy="769.8" r="5"/><circle cx="577.0" cy="774.5" r="5"/><circle cx="541.8" cy="767.8" r="5"/><circle cx="542.5" cy="769.5" r="5"/><circle cx="530.8" cy="779.5" r="5"/><circle cx="543.8" cy="785.2" r="5"/><circle cx="539.2" cy="789.0" r="5"/><circle cx="557.5" cy="779.5" r="5"/><circle cx="564.2" cy="784.0" r="5"/><circle cx="567.5" cy="787.0" r="5"/><circle cx="574.2" cy="791.0" r="5"/><circle cx="556.8" cy="792.0" r="5"/><circle cx="568.0" cy="792.8" r="5"/><circle cx="527.5" cy="797.2" r="5"/><circle cx="528.5" cy="809.8" r="5"/><circle cx="557.5" cy="804.0" r="5"/><circle cx="565.0" cy="803.5" r="5"/><circle cx="565.5" cy="807.0" r="5"/><circle cx="557.0" cy="809.8" r="5"/><circle cx="570.5" cy="812.8" r="5"/><circle cx="558.2" cy="816.0" r="5"/><circle cx="568.8" cy="816.5" r="5"/><circle cx="542.8" cy="820.2" r="5"/><circle cx="658.8" cy="780.2" r="5"/><circle cx="658.8" cy="781.5" r="5"/><circle cx="675.0" cy="792.0" r="5"/><circle cx="678.8" cy="787.8" r="5"/><circle cx="680.0" cy="794.0" r="5"/><circle cx="681.2" cy="736.5" r="5"/><circle cx="681.2" cy="759.5" r="5"/><circle cx="566.2" cy="839.0" r="5"/><circle cx="577.0" cy="838.2" r="5"/><circle cx="575.5" cy="840.2" r="5"/><circle cx="583.8" cy="845.2" r="5"/><circle cx="571.2" cy="849.0" r="5"/><circle cx="580.0" cy="847.8" r="5"/><circle cx="587.0" cy="852.0" r="5"/><circle cx="588.8" cy="862.2" r="5"/><circle cx="572.5" cy="879.8" r="5"/><circle cx="508.8" cy="852.0" r="5"/><circle cx="645.0" cy="861.0" r="5"/><circle cx="315.8" cy="845.5" r="5"/><circle cx="368.2" cy="855.8" r="5"/><circle cx="364.5" cy="858.0" r="5"/><circle cx="356.2" cy="867.0" r="5"/><circle cx="355.8" cy="868.5" r="5"/><circle cx="418.8" cy="871.2" r="5"/><circle cx="435.0" cy="871.8" r="5"/><circle cx="450.5" cy="873.5" r="5"/><circle cx="460.0" cy="871.5" r="5"/><circle cx="265.8" cy="870.2" r="5"/><circle cx="268.0" cy="870.2" r="5"/><circle cx="270.0" cy="875.2" r="5"/><circle cx="270.0" cy="877.8" r="5"/><circle cx="266.2" cy="883.2" r="5"/><circle cx="272.5" cy="881.5" r="5"/><circle cx="274.2" cy="886.5" r="5"/><circle cx="278.0" cy="892.0" r="5"/><circle cx="276.0" cy="897.8" r="5"/><circle cx="280.2" cy="905.2" r="5"/><circle cx="305.0" cy="888.5" r="5"/><circle cx="332.5" cy="896.5" r="5"/><circle cx="393.0" cy="898.0" r="5"/><circle cx="440.0" cy="903.0" r="5"/><circle cx="285.0" cy="918.8" r="5"/><circle cx="286.2" cy="924.5" r="5"/><circle cx="295.2" cy="941.8" r="5"/><circle cx="270.2" cy="947.2" r="5"/><circle cx="286.2" cy="956.8" r="5"/><circle cx="265.0" cy="960.2" r="5"/><circle cx="267.5" cy="978.2" r="5"/><circle cx="312.5" cy="975.5" r="5"/><circle cx="344.8" cy="957.0" r="5"/><circle cx="387.0" cy="946.5" r="5"/><circle cx="597.5" cy="933.8" r="5"/><circle cx="590.0" cy="948.5" r="5"/><circle cx="595.0" cy="953.5" r="5"/><circle cx="590.8" cy="975.2" r="5"/><circle cx="590.8" cy="977.0" r="5"/><circle cx="591.2" cy="1008.2" r="5"/><circle cx="588.0" cy="1018.2" r="5"/><circle cx="603.8" cy="1023.8" r="5"/><circle cx="623.8" cy="1029.8" r="5"/><circle cx="645.0" cy="1011.0" r="5"/><circle cx="680.5" cy="999.5" r="5"/><circle cx="432.5" cy="1016.2" r="5"/><circle cx="466.5" cy="1021.5" r="5"/><circle cx="465.0" cy="1027.2" r="5"/><circle cx="578.8" cy="1047.8" r="5"/><circle cx="698.2" cy="700.2" r="5"/><circle cx="689.5" cy="710.2" r="5"/><circle cx="697.8" cy="709.8" r="5"/><circle cx="752.0" cy="702.8" r="5"/><circle cx="753.8" cy="707.8" r="5"/><circle cx="797.0" cy="701.0" r="5"/><circle cx="794.5" cy="706.5" r="5"/><circle cx="935.8" cy="699.0" r="5"/><circle cx="689.0" cy="724.0" r="5"/><circle cx="685.0" cy="736.0" r="5"/><circle cx="693.2" cy="736.5" r="5"/><circle cx="744.5" cy="724.8" r="5"/><circle cx="750.0" cy="724.8" r="5"/><circle cx="780.8" cy="719.0" r="5"/><circle cx="783.2" cy="722.2" r="5"/><circle cx="767.8" cy="731.5" r="5"/><circle cx="772.0" cy="734.0" r="5"/><circle cx="763.2" cy="739.0" r="5"/><circle cx="765.8" cy="741.5" r="5"/><circle cx="772.5" cy="743.0" r="5"/><circle cx="748.5" cy="746.2" r="5"/><circle cx="755.2" cy="747.5" r="5"/><circle cx="764.5" cy="752.2" r="5"/><circle cx="689.0" cy="762.2" r="5"/><circle cx="691.5" cy="775.2" r="5"/><circle cx="767.8" cy="770.8" r="5"/><circle cx="770.0" cy="780.0" r="5"/><circle cx="774.0" cy="791.0" r="5"/><circle cx="768.2" cy="792.0" r="5"/><circle cx="762.0" cy="795.2" r="5"/><circle cx="765.2" cy="795.2" r="5"/><circle cx="769.0" cy="800.2" r="5"/><circle cx="692.5" cy="791.5" r="5"/><circle cx="695.8" cy="799.0" r="5"/><circle cx="682.0" cy="789.0" r="5"/><circle cx="684.0" cy="795.2" r="5"/><circle cx="822.0" cy="799.8" r="5"/><circle cx="707.0" cy="812.2" r="5"/><circle cx="757.8" cy="809.8" r="5"/><circle cx="794.0" cy="814.2" r="5"/><circle cx="733.2" cy="830.2" r="5"/><circle cx="734.0" cy="861.0" r="5"/><circle cx="865.0" cy="827.0" r="5"/><circle cx="864.0" cy="826.0" r="5"/><circle cx="869.5" cy="847.8" r="5"/><circle cx="874.0" cy="848.8" r="5"/><circle cx="866.0" cy="863.8" r="5"/><circle cx="860.8" cy="871.5" r="5"/><circle cx="862.5" cy="872.8" r="5"/><circle cx="867.5" cy="878.2" r="5"/><circle cx="869.5" cy="879.0" r="5"/><circle cx="852.8" cy="881.5" r="5"/><circle cx="847.8" cy="891.2" r="5"/><circle cx="855.5" cy="893.0" r="5"/><circle cx="873.0" cy="894.2" r="5"/><circle cx="876.2" cy="908.0" r="5"/><circle cx="880.2" cy="916.0" r="5"/><circle cx="880.2" cy="929.5" r="5"/><circle cx="886.5" cy="929.0" r="5"/><circle cx="889.0" cy="932.8" r="5"/><circle cx="715.8" cy="896.8" r="5"/><circle cx="701.0" cy="904.5" r="5"/><circle cx="710.8" cy="910.2" r="5"/><circle cx="711.2" cy="914.0" r="5"/><circle cx="719.8" cy="911.8" r="5"/><circle cx="734.2" cy="905.5" r="5"/><circle cx="746.2" cy="905.5" r="5"/><circle cx="756.2" cy="905.5" r="5"/><circle cx="765.2" cy="904.8" r="5"/><circle cx="746.5" cy="913.5" r="5"/><circle cx="752.8" cy="913.5" r="5"/><circle cx="774.0" cy="913.5" r="5"/><circle cx="777.5" cy="912.2" r="5"/><circle cx="783.8" cy="911.5" r="5"/><circle cx="794.5" cy="895.2" r="5"/><circle cx="796.5" cy="893.5" r="5"/><circle cx="799.0" cy="896.5" r="5"/><circle cx="815.2" cy="896.0" r="5"/><circle cx="806.5" cy="903.2" r="5"/><circle cx="810.8" cy="904.0" r="5"/><circle cx="824.5" cy="905.2" r="5"/><circle cx="836.2" cy="899.8" r="5"/><circle cx="838.2" cy="904.0" r="5"/><circle cx="840.2" cy="906.5" r="5"/><circle cx="843.2" cy="907.8" r="5"/><circle cx="835.0" cy="911.5" r="5"/><circle cx="840.8" cy="915.2" r="5"/><circle cx="829.5" cy="919.0" r="5"/><circle cx="817.0" cy="929.0" r="5"/><circle cx="799.2" cy="939.5" r="5"/><circle cx="710.8" cy="940.8" r="5"/><circle cx="717.5" cy="939.8" r="5"/><circle cx="953.2" cy="740.5" r="5"/><circle cx="955.8" cy="748.5" r="5"/><circle cx="964.8" cy="761.0" r="5"/><circle cx="965.0" cy="762.8" r="5"/><circle cx="984.8" cy="772.2" r="5"/><circle cx="997.2" cy="764.0" r="5"/><circle cx="1014.5" cy="750.2" r="5"/><circle cx="1015.8" cy="752.8" r="5"/><circle cx="1023.2" cy="749.0" r="5"/><circle cx="1027.8" cy="744.8" r="5"/><circle cx="1021.5" cy="757.2" r="5"/><circle cx="1024.5" cy="758.5" r="5"/><circle cx="1047.5" cy="754.5" r="5"/><circle cx="1050.0" cy="757.0" r="5"/><circle cx="1104.0" cy="747.8" r="5"/><circle cx="1102.0" cy="752.8" r="5"/><circle cx="1101.5" cy="765.5" r="5"/><circle cx="994.5" cy="795.5" r="5"/><circle cx="999.0" cy="799.5" r="5"/><circle cx="1049.0" cy="785.0" r="5"/><circle cx="1057.0" cy="789.5" r="5"/><circle cx="1063.2" cy="781.0" r="5"/><circle cx="1063.8" cy="795.2" r="5"/><circle cx="1065.8" cy="794.0" r="5"/><circle cx="1104.5" cy="785.2" r="5"/><circle cx="1106.5" cy="785.2" r="5"/><circle cx="1110.2" cy="785.2" r="5"/><circle cx="1114.0" cy="785.2" r="5"/><circle cx="1119.5" cy="782.0" r="5"/><circle cx="1127.5" cy="776.0" r="5"/><circle cx="1118.2" cy="793.2" r="5"/><circle cx="1123.8" cy="801.5" r="5"/><circle cx="1118.2" cy="806.0" r="5"/><circle cx="1192.0" cy="780.2" r="5"/><circle cx="973.8" cy="818.0" r="5"/><circle cx="990.8" cy="821.5" r="5"/><circle cx="1015.0" cy="815.5" r="5"/><circle cx="1026.2" cy="819.0" r="5"/><circle cx="1024.5" cy="824.0" r="5"/><circle cx="1021.5" cy="828.5" r="5"/><circle cx="1015.8" cy="832.8" r="5"/><circle cx="1019.5" cy="834.8" r="5"/><circle cx="1065.2" cy="823.5" r="5"/><circle cx="1090.2" cy="813.0" r="5"/><circle cx="1055.8" cy="846.0" r="5"/><circle cx="1026.5" cy="851.8" r="5"/><circle cx="1107.8" cy="836.2" r="5"/><circle cx="1113.8" cy="846.5" r="5"/><circle cx="1130.2" cy="843.0" r="5"/><circle cx="1158.2" cy="841.8" r="5"/><circle cx="1112.0" cy="865.0" r="5"/><circle cx="964.2" cy="861.5" r="5"/><circle cx="948.8" cy="873.0" r="5"/><circle cx="963.2" cy="885.2" r="5"/><circle cx="996.2" cy="879.8" r="5"/><circle cx="942.0" cy="895.5" r="5"/><circle cx="1147.0" cy="872.2" r="5"/><circle cx="1152.0" cy="887.0" r="5"/><circle cx="1182.0" cy="862.8" r="5"/><circle cx="1182.8" cy="875.2" r="5"/><circle cx="1189.0" cy="877.0" r="5"/><circle cx="1184.5" cy="886.5" r="5"/><circle cx="1109.5" cy="892.0" r="5"/><circle cx="1110.2" cy="900.5" r="5"/><circle cx="1190.8" cy="900.5" r="5"/><circle cx="1189.5" cy="909.0" r="5"/><circle cx="1111.0" cy="914.0" r="5"/><circle cx="1129.2" cy="914.0" r="5"/><circle cx="1140.2" cy="918.8" r="5"/><circle cx="1176.0" cy="914.0" r="5"/><circle cx="1189.5" cy="925.2" r="5"/><circle cx="1187.5" cy="929.0" r="5"/><circle cx="931.2" cy="914.0" r="5"/><circle cx="932.0" cy="919.0" r="5"/><circle cx="945.8" cy="910.2" r="5"/><circle cx="951.5" cy="909.0" r="5"/><circle cx="957.0" cy="923.2" r="5"/><circle cx="974.8" cy="924.0" r="5"/><circle cx="997.8" cy="916.2" r="5"/><circle cx="1013.2" cy="918.5" r="5"/><circle cx="1013.8" cy="920.5" r="5"/><circle cx="989.2" cy="935.0" r="5"/><circle cx="1020.0" cy="937.5" r="5"/><circle cx="925.8" cy="932.2" r="5"/><circle cx="911.2" cy="937.2" r="5"/><circle cx="915.2" cy="949.0" r="5"/><circle cx="912.0" cy="955.2" r="5"/><circle cx="916.5" cy="952.8" r="5"/><circle cx="863.0" cy="953.5" r="5"/><circle cx="874.8" cy="954.0" r="5"/><circle cx="859.8" cy="961.5" r="5"/><circle cx="854.5" cy="977.2" r="5"/><circle cx="850.8" cy="981.0" r="5"/><circle cx="857.0" cy="981.0" r="5"/><circle cx="850.5" cy="994.5" r="5"/><circle cx="848.0" cy="1010.8" r="5"/><circle cx="746.2" cy="975.8" r="5"/><circle cx="753.5" cy="982.8" r="5"/><circle cx="701.8" cy="994.0" r="5"/><circle cx="715.0" cy="993.5" r="5"/><circle cx="685.8" cy="997.0" r="5"/><circle cx="726.2" cy="1002.0" r="5"/><circle cx="735.0" cy="1002.5" r="5"/><circle cx="747.8" cy="999.0" r="5"/><circle cx="758.0" cy="1004.5" r="5"/><circle cx="693.8" cy="1034.5" r="5"/><circle cx="701.5" cy="1044.5" r="5"/><circle cx="1049.2" cy="976.5" r="5"/><circle cx="1059.5" cy="991.0" r="5"/><circle cx="1063.8" cy="995.8" r="5"/><circle cx="1034.8" cy="995.5" r="5"/><circle cx="1073.2" cy="1012.5" r="5"/><circle cx="1075.8" cy="1019.5" r="5"/><circle cx="1048.0" cy="1031.0" r="5"/><circle cx="1090.0" cy="1035.2" r="5"/><circle cx="1085.2" cy="1037.0" r="5"/><circle cx="1074.5" cy="1042.0" r="5"/><circle cx="1083.2" cy="1047.8" r="5"/><circle cx="1100.8" cy="1046.5" r="5"/><circle cx="1104.5" cy="1046.0" r="5"/><circle cx="1163.2" cy="1045.2" r="5"/><circle cx="1181.2" cy="1012.5" r="5"/><circle cx="1181.8" cy="1028.5" r="5"/><circle cx="1242.0" cy="704.0" r="5"/><circle cx="1255.2" cy="703.5" r="5"/><circle cx="1260.2" cy="702.0" r="5"/><circle cx="1266.5" cy="701.5" r="5"/><circle cx="1274.5" cy="703.5" r="5"/><circle cx="1280.2" cy="702.0" r="5"/><circle cx="1287.8" cy="705.2" r="5"/><circle cx="1299.0" cy="701.0" r="5"/><circle cx="1301.5" cy="709.0" r="5"/><circle cx="1305.2" cy="709.5" r="5"/><circle cx="1314.0" cy="699.0" r="5"/><circle cx="1330.2" cy="702.8" r="5"/><circle cx="1332.8" cy="704.0" r="5"/><circle cx="1338.5" cy="701.5" r="5"/><circle cx="1354.0" cy="702.0" r="5"/><circle cx="1400.8" cy="699.0" r="5"/><circle cx="1235.2" cy="717.8" r="5"/><circle cx="1258.5" cy="719.5" r="5"/><circle cx="1269.0" cy="715.2" r="5"/><circle cx="1285.2" cy="716.5" r="5"/><circle cx="1299.5" cy="718.5" r="5"/><circle cx="1314.8" cy="720.0" r="5"/><circle cx="1323.2" cy="725.0" r="5"/><circle cx="1343.5" cy="715.8" r="5"/><circle cx="1376.8" cy="718.0" r="5"/><circle cx="1403.2" cy="717.2" r="5"/><circle cx="1221.0" cy="728.5" r="5"/><circle cx="1254.0" cy="729.5" r="5"/><circle cx="1249.0" cy="737.0" r="5"/><circle cx="1315.8" cy="738.5" r="5"/><circle cx="1385.8" cy="740.8" r="5"/><circle cx="1206.0" cy="746.0" r="5"/><circle cx="1219.0" cy="745.2" r="5"/><circle cx="1226.5" cy="744.5" r="5"/><circle cx="1201.5" cy="751.5" r="5"/><circle cx="1212.0" cy="757.0" r="5"/><circle cx="1203.5" cy="761.0" r="5"/><circle cx="1197.5" cy="768.5" r="5"/><circle cx="1228.0" cy="759.2" r="5"/><circle cx="1238.0" cy="769.5" r="5"/><circle cx="1255.2" cy="752.0" r="5"/><circle cx="1261.5" cy="747.8" r="5"/><circle cx="1266.0" cy="752.0" r="5"/><circle cx="1260.2" cy="757.8" r="5"/><circle cx="1279.0" cy="752.0" r="5"/><circle cx="1288.5" cy="752.2" r="5"/><circle cx="1297.8" cy="746.5" r="5"/><circle cx="1299.0" cy="751.5" r="5"/><circle cx="1304.8" cy="753.2" r="5"/><circle cx="1300.2" cy="757.8" r="5"/><circle cx="1277.8" cy="760.2" r="5"/><circle cx="1295.2" cy="765.2" r="5"/><circle cx="1288.5" cy="769.0" r="5"/><circle cx="1300.2" cy="772.2" r="5"/><circle cx="1329.0" cy="750.2" r="5"/><circle cx="1318.5" cy="772.0" r="5"/><circle cx="1329.0" cy="767.8" r="5"/><circle cx="1330.2" cy="766.5" r="5"/><circle cx="1290.2" cy="780.2" r="5"/><circle cx="1285.2" cy="781.0" r="5"/><circle cx="1287.8" cy="782.0" r="5"/><circle cx="1285.2" cy="792.0" r="5"/><circle cx="1280.2" cy="803.5" r="5"/><circle cx="1282.0" cy="804.0" r="5"/><circle cx="1302.0" cy="807.8" r="5"/><circle cx="1216.0" cy="782.0" r="5"/><circle cx="1217.0" cy="784.0" r="5"/><circle cx="1224.5" cy="794.0" r="5"/><circle cx="1346.5" cy="773.5" r="5"/><circle cx="1356.0" cy="771.5" r="5"/><circle cx="1349.5" cy="778.5" r="5"/><circle cx="1356.5" cy="787.0" r="5"/><circle cx="1383.2" cy="776.2" r="5"/><circle cx="1396.5" cy="772.8" r="5"/><circle cx="1379.5" cy="792.8" r="5"/><circle cx="1394.5" cy="796.5" r="5"/><circle cx="1329.5" cy="799.0" r="5"/><circle cx="1342.0" cy="802.0" r="5"/><circle cx="1344.8" cy="807.2" r="5"/><circle cx="1339.0" cy="810.2" r="5"/><circle cx="1331.0" cy="814.0" r="5"/><circle cx="1336.5" cy="816.0" r="5"/><circle cx="1346.5" cy="811.5" r="5"/><circle cx="1340.2" cy="812.8" r="5"/><circle cx="1285.2" cy="820.5" r="5"/><circle cx="1292.0" cy="817.5" r="5"/><circle cx="1313.8" cy="822.2" r="5"/><circle cx="1346.0" cy="829.5" r="5"/><circle cx="1354.0" cy="826.5" r="5"/><circle cx="1313.5" cy="839.5" r="5"/><circle cx="1313.8" cy="841.5" r="5"/><circle cx="1206.5" cy="851.5" r="5"/><circle cx="1219.0" cy="852.0" r="5"/><circle cx="1225.5" cy="845.0" r="5"/><circle cx="1214.5" cy="859.0" r="5"/><circle cx="1205.2" cy="862.0" r="5"/><circle cx="1199.0" cy="864.0" r="5"/><circle cx="1209.0" cy="868.5" r="5"/><circle cx="1204.0" cy="871.5" r="5"/><circle cx="1198.5" cy="875.2" r="5"/><circle cx="1295.2" cy="860.2" r="5"/><circle cx="1302.8" cy="864.0" r="5"/><circle cx="1297.8" cy="865.2" r="5"/><circle cx="1309.0" cy="869.0" r="5"/><circle cx="1319.0" cy="855.0" r="5"/><circle cx="1315.8" cy="862.0" r="5"/><circle cx="1306.5" cy="871.5" r="5"/><circle cx="1310.2" cy="874.8" r="5"/><circle cx="1317.8" cy="876.5" r="5"/><circle cx="1318.5" cy="878.5" r="5"/><circle cx="1365.2" cy="857.8" r="5"/><circle cx="1361.0" cy="860.2" r="5"/><circle cx="1360.2" cy="862.8" r="5"/><circle cx="1344.5" cy="879.0" r="5"/><circle cx="1344.2" cy="896.5" r="5"/><circle cx="1361.0" cy="897.8" r="5"/><circle cx="1345.8" cy="905.5" r="5"/><circle cx="1390.5" cy="898.8" r="5"/><circle cx="1397.5" cy="894.0" r="5"/><circle cx="1351.0" cy="914.0" r="5"/><circle cx="1354.8" cy="916.0" r="5"/><circle cx="1359.0" cy="918.5" r="5"/><circle cx="1359.2" cy="927.8" r="5"/><circle cx="1355.2" cy="934.0" r="5"/><circle cx="1357.0" cy="937.2" r="5"/><circle cx="1341.5" cy="939.5" r="5"/><circle cx="1376.2" cy="927.0" r="5"/><circle cx="1401.0" cy="928.8" r="5"/><circle cx="1399.5" cy="944.8" r="5"/><circle cx="1402.0" cy="945.8" r="5"/><circle cx="1364.5" cy="951.5" r="5"/><circle cx="1237.8" cy="922.8" r="5"/><circle cx="1240.2" cy="923.5" r="5"/><circle cx="1238.5" cy="926.0" r="5"/><circle cx="1194.0" cy="906.0" r="5"/><circle cx="1195.2" cy="922.8" r="5"/><circle cx="1235.2" cy="956.5" r="5"/><circle cx="1239.0" cy="957.8" r="5"/><circle cx="1245.2" cy="954.0" r="5"/><circle cx="1249.5" cy="955.5" r="5"/><circle cx="1240.2" cy="961.5" r="5"/><circle cx="1237.8" cy="965.2" r="5"/><circle cx="1235.2" cy="968.5" r="5"/><circle cx="1242.8" cy="969.5" r="5"/><circle cx="1245.2" cy="975.2" r="5"/><circle cx="1260.8" cy="966.8" r="5"/><circle cx="1287.8" cy="959.0" r="5"/><circle cx="1291.0" cy="960.5" r="5"/><circle cx="1308.2" cy="966.5" r="5"/><circle cx="1322.2" cy="966.2" r="5"/><circle cx="1293.2" cy="980.8" r="5"/><circle cx="1296.0" cy="981.0" r="5"/><circle cx="1302.0" cy="984.5" r="5"/><circle cx="1306.0" cy="987.2" r="5"/><circle cx="1299.0" cy="989.5" r="5"/><circle cx="1378.5" cy="969.8" r="5"/><circle cx="1377.8" cy="970.8" r="5"/><circle cx="1388.2" cy="973.5" r="5"/><circle cx="1382.8" cy="995.0" r="5"/><circle cx="1391.5" cy="996.5" r="5"/><circle cx="1394.2" cy="999.0" r="5"/><circle cx="1348.8" cy="1001.5" r="5"/><circle cx="1360.2" cy="1005.8" r="5"/><circle cx="1340.5" cy="1029.5" r="5"/><circle cx="519.8" cy="1075.2" r="5"/><circle cx="597.5" cy="1085.2" r="5"/><circle cx="608.1" cy="1080.2" r="5"/><circle cx="621.4" cy="1075.6" r="5"/><circle cx="623.8" cy="1077.6" r="5"/><circle cx="627.1" cy="1084.2" r="5"/><circle cx="606.4" cy="1095.6" r="5"/><circle cx="582.1" cy="1100.6" r="5"/><circle cx="587.1" cy="1105.6" r="5"/><circle cx="517.2" cy="1117.9" r="5"/><circle cx="484.8" cy="1115.2" r="5"/><circle cx="489.8" cy="1113.9" r="5"/><circle cx="695.1" cy="1062.6" r="5"/><circle cx="703.7" cy="1062.3" r="5"/><circle cx="693.1" cy="1066.6" r="5"/><circle cx="725.1" cy="1099.2" r="5"/><circle cx="835.3" cy="1086.2" r="5"/><circle cx="841.3" cy="1081.2" r="5"/><circle cx="785.7" cy="1134.2" r="5"/><circle cx="788.0" cy="1133.2" r="5"/><circle cx="269.3" cy="1169.5" r="5"/><circle cx="279.9" cy="1170.5" r="5"/><circle cx="278.3" cy="1179.9" r="5"/><circle cx="260.3" cy="1188.5" r="5"/><circle cx="275.9" cy="1200.5" r="5"/><circle cx="269.6" cy="1208.2" r="5"/><circle cx="264.0" cy="1212.5" r="5"/><circle cx="1087.9" cy="1060.6" r="5"/><circle cx="1094.9" cy="1068.6" r="5"/><circle cx="1045.2" cy="1080.2" r="5"/><circle cx="1165.5" cy="1077.2" r="5"/><circle cx="1061.6" cy="1095.6" r="5"/><circle cx="1069.6" cy="1100.2" r="5"/><circle cx="1071.2" cy="1103.9" r="5"/><circle cx="1068.9" cy="1106.6" r="5"/><circle cx="1074.6" cy="1112.2" r="5"/><circle cx="1075.6" cy="1115.6" r="5"/><circle cx="1276.8" cy="1061.3" r="5"/><circle cx="1264.1" cy="1072.6" r="5"/><circle cx="1273.1" cy="1076.2" r="5"/><circle cx="1289.1" cy="1080.2" r="5"/><circle cx="1289.4" cy="1084.2" r="5"/><circle cx="1287.8" cy="1092.6" r="5"/><circle cx="1277.8" cy="1095.6" r="5"/><circle cx="1285.5" cy="1095.6" r="5"/><circle cx="1383.1" cy="1117.6" r="5"/><circle cx="1386.7" cy="1174.2" r="5"/>
</g>
<line x1="1275" y1="325" x2="1269.5" y2="699" stroke="#ee4d23" stroke-width="4.8"/>
<line x1="1535.3" y1="528.4" x2="469.6" y2="1021.9" stroke="#a51c22" stroke-width="5.4"/>
<line x1="1535.3" y1="528.4" x2="279.3" y2="1174.8" stroke="#a51c22" stroke-width="5.4"/>
<line x1="1535.3" y1="528.4" x2="708" y2="1062.4" stroke="#a51c22" stroke-width="5.4"/>
<polygon points="1534.16,525.95 1540.7,522.9 1537.75,529.53 1535.30,529.40" fill="#a51c22"/>
<g fill="#ffd800" stroke="#195fa6" stroke-width="1.9"><circle cx="466.5" cy="1021.5" r="5"/><circle cx="279.9" cy="1170.5" r="5"/><circle cx="278.3" cy="1179.9" r="5"/><circle cx="703.7" cy="1062.3" r="5"/></g>
<text x="31.2" y="48.7" font-size="34" fill="#e6211d" font-weight="bold" textLength="222.3" lengthAdjust="spacingAndGlyphs">Expedition 364</text>
<text x="31.2" y="88.7" font-size="34" fill="#e6211d" textLength="364.2" lengthAdjust="spacingAndGlyphs">Chicxulub Impact Crater</text>
<text x="31.2" y="153.6" font-size="34" fill="#141414" textLength="412.6" lengthAdjust="spacingAndGlyphs">Unraveling the effects of the</text>
<text x="31.2" y="193.6" font-size="34" fill="#141414" textLength="462.8" lengthAdjust="spacingAndGlyphs">asteroid impact associated with</text>
<text x="31.2" y="233.6" font-size="34" fill="#141414" textLength="336.3" lengthAdjust="spacingAndGlyphs">the 66-million-year-old</text>
<text x="31.2" y="273.6" font-size="34" fill="#141414" textLength="410.3" lengthAdjust="spacingAndGlyphs">Cretaceous–Paleogene mass</text>
<text x="31.2" y="313.6" font-size="34" fill="#141414" textLength="152.3" lengthAdjust="spacingAndGlyphs">extinction.</text>
<text x="525" y="48.7" font-size="34" fill="#1f66a3" font-weight="bold" textLength="436.5" lengthAdjust="spacingAndGlyphs">Expeditions 304, 357, and 399</text>
<text x="525" y="88.7" font-size="34" fill="#1f66a3" textLength="221.5" lengthAdjust="spacingAndGlyphs">Atlantis Massif</text>
<text x="525" y="153.6" font-size="34" fill="#141414" textLength="452.5" lengthAdjust="spacingAndGlyphs">Probing hydrothermal activity,</text>
<text x="525" y="193.6" font-size="34" fill="#141414" textLength="432.5" lengthAdjust="spacingAndGlyphs">life, and geological structures</text>
<text x="525" y="233.6" font-size="34" fill="#141414" textLength="351.0" lengthAdjust="spacingAndGlyphs">at the seafloor along the</text>
<text x="525" y="273.6" font-size="34" fill="#141414" textLength="291.5" lengthAdjust="spacingAndGlyphs">Mid-Atlantic Ridge.</text>
<text x="1024" y="48.7" font-size="34" fill="#ee4d23" font-weight="bold" textLength="437.0" lengthAdjust="spacingAndGlyphs">Expeditions 316, 343, and 358</text>
<text x="1024" y="88.7" font-size="34" fill="#ee4d23" textLength="420.6" lengthAdjust="spacingAndGlyphs">Nankai Trough/Japan Trench</text>
<text x="1024" y="153.6" font-size="34" fill="#141414" textLength="436.0" lengthAdjust="spacingAndGlyphs">Understanding the physics and</text>
<text x="1024" y="193.6" font-size="34" fill="#141414" textLength="424.7" lengthAdjust="spacingAndGlyphs">triggers of tsunami-generating</text>
<text x="1024" y="233.6" font-size="34" fill="#141414" textLength="457.5" lengthAdjust="spacingAndGlyphs">earthquakes at subduction zones</text>
<text x="1024" y="273.6" font-size="34" fill="#141414" textLength="474.4" lengthAdjust="spacingAndGlyphs">to improve geohazard monitoring</text>
<text x="1024" y="313.6" font-size="34" fill="#141414" textLength="363.8" lengthAdjust="spacingAndGlyphs">techniques and responses.</text>
<text x="1522.5" y="48.7" font-size="34" fill="#1b4170" font-weight="bold" textLength="477.5" lengthAdjust="spacingAndGlyphs">Expeditions 349, 353–356, and 359</text>
<text x="1522.5" y="88.7" font-size="34" fill="#1b4170" textLength="484.5" lengthAdjust="spacingAndGlyphs">Indian Ocean and South China Sea</text>
<text x="1522.5" y="153.6" font-size="34" fill="#141414" textLength="361.2" lengthAdjust="spacingAndGlyphs">Tracking the evolution of</text>
<text x="1522.5" y="193.6" font-size="34" fill="#141414" textLength="402.5" lengthAdjust="spacingAndGlyphs">monsoons, past and present</text>
<text x="1522.5" y="233.6" font-size="34" fill="#141414" textLength="369.9" lengthAdjust="spacingAndGlyphs">climate, and relationships</text>
<text x="1522.5" y="273.6" font-size="34" fill="#141414" textLength="437.0" lengthAdjust="spacingAndGlyphs">between tectonics and climate.</text>
<text x="1546" y="514.4" font-size="34" fill="#a51c22" font-weight="bold" textLength="379.6" lengthAdjust="spacingAndGlyphs">Expeditions 318, 374, 379,</text>
<text x="1546" y="553.9" font-size="34" fill="#a51c22" font-weight="bold" textLength="179.6" lengthAdjust="spacingAndGlyphs">382, and 383</text>
<text x="1546" y="594.4" font-size="34" fill="#a51c22" textLength="233.5" lengthAdjust="spacingAndGlyphs">Southern Ocean</text>
<text x="1546" y="659.6" font-size="34" fill="#141414" textLength="399.5" lengthAdjust="spacingAndGlyphs">Understanding the interplay</text>
<text x="1546" y="699.35" font-size="34" fill="#141414" textLength="432.6" lengthAdjust="spacingAndGlyphs">between climate change, ocean</text>
<text x="1546" y="739.1" font-size="34" fill="#141414" textLength="418.5" lengthAdjust="spacingAndGlyphs">circulation, sea level, ice-sheet</text>
<text x="1546" y="778.85" font-size="34" fill="#141414" textLength="406.6" lengthAdjust="spacingAndGlyphs">evolution, and the biosphere.</text>
<text x="223.2" y="1299.9" font-size="34" fill="#4d4d4d" textLength="102.2" lengthAdjust="spacingAndGlyphs">180° W</text>
<text x="409" y="1299.9" font-size="34" fill="#4d4d4d" textLength="102.1" lengthAdjust="spacingAndGlyphs">120° W</text>
<text x="611.3" y="1299.9" font-size="34" fill="#4d4d4d" textLength="86.3" lengthAdjust="spacingAndGlyphs">60° W</text>
<text x="821.3" y="1299.9" font-size="34" fill="#4d4d4d" textLength="28.8" lengthAdjust="spacingAndGlyphs">0°</text>
<text x="997.5" y="1299.9" font-size="34" fill="#4d4d4d" textLength="73.9" lengthAdjust="spacingAndGlyphs">60° E</text>
<text x="1170.9" y="1299.9" font-size="34" fill="#4d4d4d" textLength="90.3" lengthAdjust="spacingAndGlyphs">120° E</text>
<text x="1361.3" y="1299.9" font-size="34" fill="#4d4d4d" textLength="90.9" lengthAdjust="spacingAndGlyphs">180° E</text>
<text x="746.7" y="1365.6" font-size="34" fill="#4d4d4d" textLength="200.7" lengthAdjust="spacingAndGlyphs">LONGITUDE</text>
<text x="76.5" y="455.0" font-size="34" fill="#4d4d4d" textLength="79.5" lengthAdjust="spacingAndGlyphs">75° N</text>
<text x="76.5" y="584.5" font-size="34" fill="#4d4d4d" textLength="79.5" lengthAdjust="spacingAndGlyphs">60° N</text>
<text x="76.5" y="724.4" font-size="34" fill="#4d4d4d" textLength="79.5" lengthAdjust="spacingAndGlyphs">30° N</text>
<text x="129.6" y="824.4" font-size="34" fill="#4d4d4d" textLength="27.3" lengthAdjust="spacingAndGlyphs">0°</text>
<text x="86.5" y="924.4" font-size="34" fill="#4d4d4d" textLength="71.8" lengthAdjust="spacingAndGlyphs">30° S</text>
<text x="86.5" y="1064.3" font-size="34" fill="#4d4d4d" textLength="71.8" lengthAdjust="spacingAndGlyphs">60° S</text>
<text x="86.5" y="1193.8" font-size="34" fill="#4d4d4d" textLength="71.8" lengthAdjust="spacingAndGlyphs">75° S</text>
<text transform="translate(60.8,886.8) rotate(-90)" font-size="34" fill="#4d4d4d" textLength="168" lengthAdjust="spacingAndGlyphs">LATITUDE</text>
</svg></body></html>
